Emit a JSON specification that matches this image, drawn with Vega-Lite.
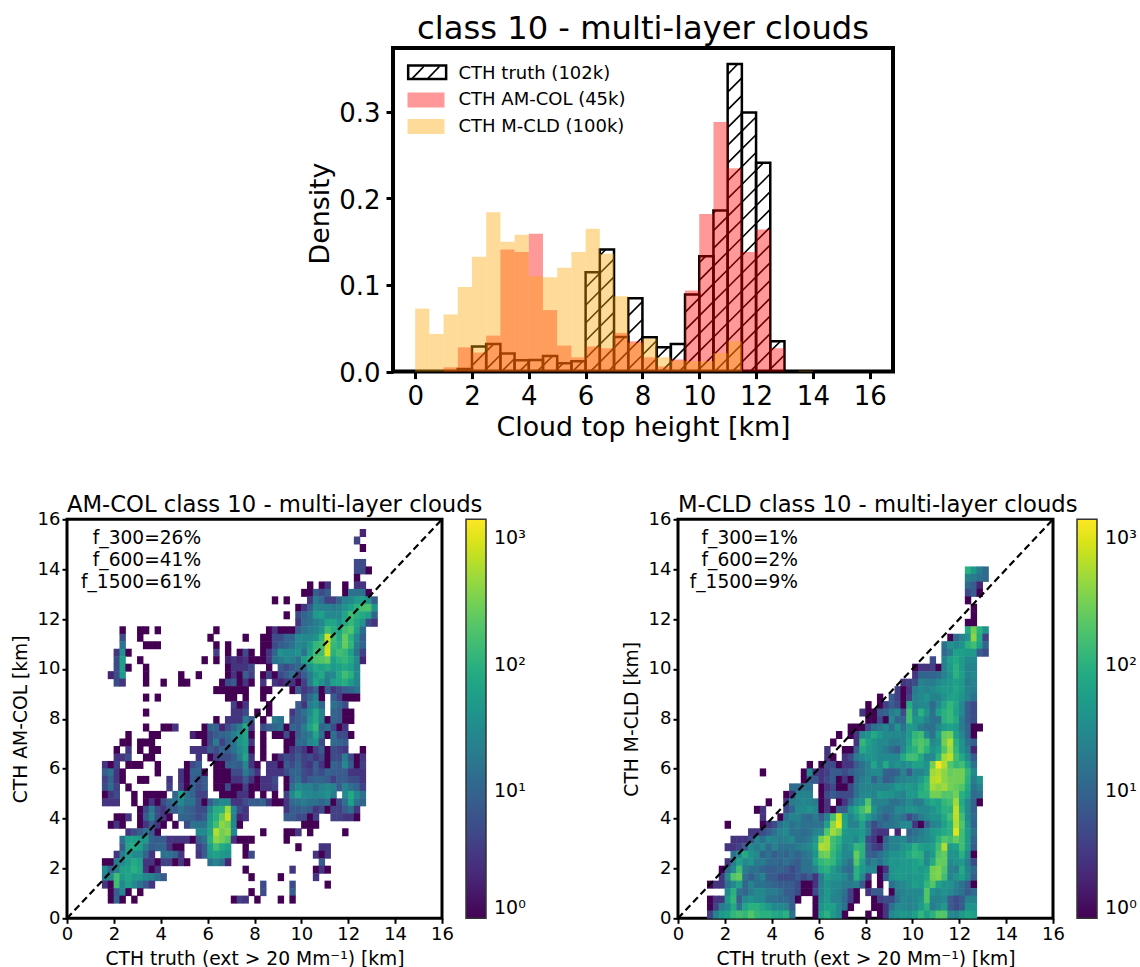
{"$schema":"https://vega.github.io/schema/vega-lite/v6.json","background":"white","bounds":"flush","spacing":471.3,"padding":{"left":9,"top":10,"right":0,"bottom":0},"autosize":{"type":"pad"},
"config":{"font":"DejaVu Sans","view":{"stroke":"black","strokeWidth":3},"axis":{"grid":false,"domain":false,"labelFlush":false,"tickColor":"black","labelColor":"black","titleColor":"black","titleFontWeight":"normal","labelFont":"DejaVu Sans","titleFont":"DejaVu Sans"},"title":{"font":"DejaVu Sans","fontWeight":"normal","color":"black"}},
"datasets":{"bars":[
{"b":1.5,"b2":2,"d":0.003,"s":"CTH truth (102k)"},{"b":2,"b2":2.5,"d":0.029,"s":"CTH truth (102k)"},{"b":2.5,"b2":3,"d":0.032,"s":"CTH truth (102k)"},{"b":3,"b2":3.5,"d":0.021,"s":"CTH truth (102k)"},{"b":3.5,"b2":4,"d":0.013,"s":"CTH truth (102k)"},{"b":4,"b2":4.5,"d":0.0135,"s":"CTH truth (102k)"},{"b":4.5,"b2":5,"d":0.018,"s":"CTH truth (102k)"},{"b":5,"b2":5.5,"d":0.0096,"s":"CTH truth (102k)"},{"b":5.5,"b2":6,"d":0.012,"s":"CTH truth (102k)"},{"b":6,"b2":6.5,"d":0.1146,"s":"CTH truth (102k)"},{"b":6.5,"b2":7,"d":0.141,"s":"CTH truth (102k)"},{"b":7,"b2":7.5,"d":0.04,"s":"CTH truth (102k)"},{"b":7.5,"b2":8,"d":0.0846,"s":"CTH truth (102k)"},{"b":8,"b2":8.5,"d":0.0396,"s":"CTH truth (102k)"},{"b":8.5,"b2":9,"d":0.028,"s":"CTH truth (102k)"},{"b":9,"b2":9.5,"d":0.032,"s":"CTH truth (102k)"},{"b":9.5,"b2":10,"d":0.089,"s":"CTH truth (102k)"},{"b":10,"b2":10.5,"d":0.133,"s":"CTH truth (102k)"},{"b":10.5,"b2":11,"d":0.186,"s":"CTH truth (102k)"},{"b":11,"b2":11.5,"d":0.355,"s":"CTH truth (102k)"},{"b":11.5,"b2":12,"d":0.299,"s":"CTH truth (102k)"},{"b":12,"b2":12.5,"d":0.241,"s":"CTH truth (102k)"},{"b":12.5,"b2":13,"d":0.035,"s":"CTH truth (102k)"},
{"b":1,"b2":1.5,"d":0.005,"s":"CTH AM-COL (45k)"},{"b":1.5,"b2":2,"d":0.028,"s":"CTH AM-COL (45k)"},{"b":2,"b2":2.5,"d":0.022,"s":"CTH AM-COL (45k)"},{"b":2.5,"b2":3,"d":0.0415,"s":"CTH AM-COL (45k)"},{"b":3,"b2":3.5,"d":0.141,"s":"CTH AM-COL (45k)"},{"b":3.5,"b2":4,"d":0.138,"s":"CTH AM-COL (45k)"},{"b":4,"b2":4.5,"d":0.159,"s":"CTH AM-COL (45k)"},{"b":4.5,"b2":5,"d":0.071,"s":"CTH AM-COL (45k)"},{"b":5,"b2":5.5,"d":0.03,"s":"CTH AM-COL (45k)"},{"b":5.5,"b2":6,"d":0.0165,"s":"CTH AM-COL (45k)"},{"b":6,"b2":6.5,"d":0.029,"s":"CTH AM-COL (45k)"},{"b":6.5,"b2":7,"d":0.027,"s":"CTH AM-COL (45k)"},{"b":7,"b2":7.5,"d":0.0446,"s":"CTH AM-COL (45k)"},{"b":7.5,"b2":8,"d":0.035,"s":"CTH AM-COL (45k)"},{"b":8,"b2":8.5,"d":0.0165,"s":"CTH AM-COL (45k)"},{"b":8.5,"b2":9,"d":0.006,"s":"CTH AM-COL (45k)"},{"b":9,"b2":9.5,"d":0.014,"s":"CTH AM-COL (45k)"},{"b":9.5,"b2":10,"d":0.0935,"s":"CTH AM-COL (45k)"},{"b":10,"b2":10.5,"d":0.182,"s":"CTH AM-COL (45k)"},{"b":10.5,"b2":11,"d":0.288,"s":"CTH AM-COL (45k)"},{"b":11,"b2":11.5,"d":0.2346,"s":"CTH AM-COL (45k)"},{"b":11.5,"b2":12,"d":0.138,"s":"CTH AM-COL (45k)"},{"b":12,"b2":12.5,"d":0.164,"s":"CTH AM-COL (45k)"},{"b":12.5,"b2":13,"d":0.027,"s":"CTH AM-COL (45k)"},
{"b":0,"b2":0.5,"d":0.0727,"s":"CTH M-CLD (100k)"},{"b":0.5,"b2":1,"d":0.0435,"s":"CTH M-CLD (100k)"},{"b":1,"b2":1.5,"d":0.066,"s":"CTH M-CLD (100k)"},{"b":1.5,"b2":2,"d":0.0977,"s":"CTH M-CLD (100k)"},{"b":2,"b2":2.5,"d":0.1327,"s":"CTH M-CLD (100k)"},{"b":2.5,"b2":3,"d":0.184,"s":"CTH M-CLD (100k)"},{"b":3,"b2":3.5,"d":0.15,"s":"CTH M-CLD (100k)"},{"b":3.5,"b2":4,"d":0.158,"s":"CTH M-CLD (100k)"},{"b":4,"b2":4.5,"d":0.11,"s":"CTH M-CLD (100k)"},{"b":4.5,"b2":5,"d":0.109,"s":"CTH M-CLD (100k)"},{"b":5,"b2":5.5,"d":0.12,"s":"CTH M-CLD (100k)"},{"b":5.5,"b2":6,"d":0.138,"s":"CTH M-CLD (100k)"},{"b":6,"b2":6.5,"d":0.165,"s":"CTH M-CLD (100k)"},{"b":6.5,"b2":7,"d":0.136,"s":"CTH M-CLD (100k)"},{"b":7,"b2":7.5,"d":0.087,"s":"CTH M-CLD (100k)"},{"b":7.5,"b2":8,"d":0.033,"s":"CTH M-CLD (100k)"},{"b":8,"b2":8.5,"d":0.038,"s":"CTH M-CLD (100k)"},{"b":8.5,"b2":9,"d":0.0165,"s":"CTH M-CLD (100k)"},{"b":9,"b2":9.5,"d":0.0127,"s":"CTH M-CLD (100k)"},{"b":9.5,"b2":10,"d":0.012,"s":"CTH M-CLD (100k)"},{"b":10,"b2":10.5,"d":0.012,"s":"CTH M-CLD (100k)"},{"b":10.5,"b2":11,"d":0.0215,"s":"CTH M-CLD (100k)"},{"b":11,"b2":11.5,"d":0.035,"s":"CTH M-CLD (100k)"},{"b":13.5,"b2":14,"d":0.001,"s":"CTH M-CLD (100k)"}],
"patch":[{"b":-0.246,"b2":1.09,"d":0.3376,"d2":0.3534}],
"hatch":[
{"x":-0.1,"y":0.3385,"x2":0.3,"y2":0.352},{"x":0.45,"y":0.3385,"x2":0.85,"y2":0.352},
{"x":2.415,"y":0,"x2":2.5,"y2":0.0028},{"x":2,"y":0.0069,"x2":2.5,"y2":0.0233},{"x":2,"y":0.0274,"x2":2.05,"y2":0.029},
{"x":2.5,"y":0.0028,"x2":3,"y2":0.0192},{"x":2.5,"y":0.0233,"x2":2.77,"y2":0.032},
{"x":3,"y":0.0192,"x2":3.05,"y2":0.021},{"x":3.04,"y":0,"x2":3.5,"y2":0.0151},
{"x":3.665,"y":0,"x2":4,"y2":0.011},
{"x":4,"y":0.011,"x2":4.08,"y2":0.0135},{"x":4.29,"y":0,"x2":4.5,"y2":0.0069},
{"x":4.5,"y":0.0069,"x2":4.84,"y2":0.018},{"x":4.915,"y":0,"x2":5,"y2":0.0028},
{"x":5,"y":0.0028,"x2":5.21,"y2":0.0096},
{"x":5.54,"y":0,"x2":5.9,"y2":0.012},
{"x":6,"y":0.0151,"x2":6.5,"y2":0.0315},{"x":6,"y":0.0356,"x2":6.5,"y2":0.052},{"x":6,"y":0.0561,"x2":6.5,"y2":0.0725},{"x":6,"y":0.0766,"x2":6.5,"y2":0.093},{"x":6,"y":0.0971,"x2":6.5,"y2":0.1135},{"x":6.165,"y":0,"x2":6.5,"y2":0.011},
{"x":6.5,"y":0.011,"x2":7,"y2":0.0274},{"x":6.5,"y":0.0315,"x2":7,"y2":0.0479},{"x":6.5,"y":0.052,"x2":7,"y2":0.0684},{"x":6.5,"y":0.0725,"x2":7,"y2":0.0889},{"x":6.5,"y":0.093,"x2":7,"y2":0.1094},{"x":6.5,"y":0.1135,"x2":7,"y2":0.1299},{"x":6.5,"y":0.134,"x2":6.71,"y2":0.141},{"x":6.79,"y":0,"x2":7,"y2":0.0069},
{"x":7,"y":0.0069,"x2":7.5,"y2":0.0233},{"x":7,"y":0.0274,"x2":7.384,"y2":0.04},{"x":7.415,"y":0,"x2":7.5,"y2":0.0028},
{"x":7.5,"y":0.0028,"x2":8,"y2":0.0192},{"x":7.5,"y":0.0233,"x2":8,"y2":0.0397},{"x":7.5,"y":0.0438,"x2":8,"y2":0.0602},{"x":7.5,"y":0.0643,"x2":8,"y2":0.0807},
{"x":8,"y":0.0192,"x2":8.5,"y2":0.0356},{"x":8.04,"y":0,"x2":8.5,"y2":0.0151},
{"x":8.5,"y":0.0151,"x2":8.893,"y2":0.028},{"x":8.665,"y":0,"x2":9,"y2":0.011},
{"x":9,"y":0.011,"x2":9.5,"y2":0.0274},{"x":9.29,"y":0,"x2":9.5,"y2":0.0069},
{"x":9.5,"y":0.0069,"x2":10,"y2":0.0233},{"x":9.5,"y":0.0274,"x2":10,"y2":0.0438},{"x":9.5,"y":0.0479,"x2":10,"y2":0.0643},{"x":9.5,"y":0.0684,"x2":10,"y2":0.0848},{"x":9.915,"y":0,"x2":10,"y2":0.0028},
{"x":10,"y":0.0028,"x2":10.5,"y2":0.0192},{"x":10,"y":0.0233,"x2":10.5,"y2":0.0397},{"x":10,"y":0.0438,"x2":10.5,"y2":0.0602},{"x":10,"y":0.0643,"x2":10.5,"y2":0.0807},{"x":10,"y":0.0848,"x2":10.5,"y2":0.1012},{"x":10,"y":0.1053,"x2":10.5,"y2":0.1217},{"x":10,"y":0.1258,"x2":10.22,"y2":0.133},
{"x":10.5,"y":0.0192,"x2":11,"y2":0.0356},{"x":10.5,"y":0.0397,"x2":11,"y2":0.0561},{"x":10.5,"y":0.0602,"x2":11,"y2":0.0766},{"x":10.5,"y":0.0807,"x2":11,"y2":0.0971},{"x":10.5,"y":0.1012,"x2":11,"y2":0.1176},{"x":10.5,"y":0.1217,"x2":11,"y2":0.1381},{"x":10.5,"y":0.1422,"x2":11,"y2":0.1586},{"x":10.5,"y":0.1627,"x2":11,"y2":0.1791},{"x":10.5,"y":0.1832,"x2":10.585,"y2":0.186},{"x":10.54,"y":0,"x2":11,"y2":0.0151},
{"x":11,"y":0.0151,"x2":11.5,"y2":0.0315},{"x":11,"y":0.0356,"x2":11.5,"y2":0.052},{"x":11,"y":0.0561,"x2":11.5,"y2":0.0725},{"x":11,"y":0.0766,"x2":11.5,"y2":0.093},{"x":11,"y":0.0971,"x2":11.5,"y2":0.1135},{"x":11,"y":0.1176,"x2":11.5,"y2":0.134},{"x":11,"y":0.1381,"x2":11.5,"y2":0.1545},{"x":11,"y":0.1586,"x2":11.5,"y2":0.175},{"x":11,"y":0.1791,"x2":11.5,"y2":0.1955},{"x":11,"y":0.1996,"x2":11.5,"y2":0.216},{"x":11,"y":0.2201,"x2":11.5,"y2":0.2365},{"x":11,"y":0.2406,"x2":11.5,"y2":0.257},{"x":11,"y":0.2611,"x2":11.5,"y2":0.2775},{"x":11,"y":0.2816,"x2":11.5,"y2":0.298},{"x":11,"y":0.3021,"x2":11.5,"y2":0.3185},{"x":11,"y":0.3226,"x2":11.5,"y2":0.339},{"x":11,"y":0.3431,"x2":11.357,"y2":0.355},{"x":11.165,"y":0,"x2":11.5,"y2":0.011},
{"x":11.5,"y":0.011,"x2":12,"y2":0.0274},{"x":11.5,"y":0.0315,"x2":12,"y2":0.0479},{"x":11.5,"y":0.052,"x2":12,"y2":0.0684},{"x":11.5,"y":0.0725,"x2":12,"y2":0.0889},{"x":11.5,"y":0.093,"x2":12,"y2":0.1094},{"x":11.5,"y":0.1135,"x2":12,"y2":0.1299},{"x":11.5,"y":0.134,"x2":12,"y2":0.1504},{"x":11.5,"y":0.1545,"x2":12,"y2":0.1709},{"x":11.5,"y":0.175,"x2":12,"y2":0.1914},{"x":11.5,"y":0.1955,"x2":12,"y2":0.2119},{"x":11.5,"y":0.216,"x2":12,"y2":0.2324},{"x":11.5,"y":0.2365,"x2":12,"y2":0.2529},{"x":11.5,"y":0.257,"x2":12,"y2":0.2734},{"x":11.5,"y":0.2775,"x2":12,"y2":0.2939},{"x":11.79,"y":0,"x2":12,"y2":0.0069},
{"x":12,"y":0.0069,"x2":12.5,"y2":0.0233},{"x":12,"y":0.0274,"x2":12.5,"y2":0.0438},{"x":12,"y":0.0479,"x2":12.5,"y2":0.0643},{"x":12,"y":0.0684,"x2":12.5,"y2":0.0848},{"x":12,"y":0.0889,"x2":12.5,"y2":0.1053},{"x":12,"y":0.1094,"x2":12.5,"y2":0.1258},{"x":12,"y":0.1299,"x2":12.5,"y2":0.1463},{"x":12,"y":0.1504,"x2":12.5,"y2":0.1668},{"x":12,"y":0.1709,"x2":12.5,"y2":0.1873},{"x":12,"y":0.1914,"x2":12.5,"y2":0.2078},{"x":12,"y":0.2119,"x2":12.5,"y2":0.2283},{"x":12,"y":0.2324,"x2":12.262,"y2":0.241},{"x":12.415,"y":0,"x2":12.5,"y2":0.0028},
{"x":12.5,"y":0.0028,"x2":13,"y2":0.0192},{"x":12.5,"y":0.0233,"x2":12.86,"y2":0.035}],
"amcol":[
{"x":12.5,"y":15.3,"c":2},
{"x":12.25,"y":15,"c":4},
{"x":12.5,"y":14.7,"c":1},
{"x":12.25,"y":14.1,"c":5},{"x":12.5,"y":14.1,"c":5},
{"x":12.25,"y":13.8,"c":5},{"x":12.5,"y":13.8,"c":5},{"x":12.75,"y":13.8,"c":1},
{"x":12.25,"y":13.5,"c":1},
{"x":10.25,"y":13.2,"c":1},{"x":10.75,"y":13.2,"c":1},{"x":11,"y":13.2,"c":3},{"x":11.75,"y":13.2,"c":1},{"x":12.25,"y":13.2,"c":3},{"x":12.5,"y":13.2,"c":3},
{"x":10,"y":12.9,"c":1},{"x":10.25,"y":12.9,"c":1},{"x":10.5,"y":12.9,"c":8},{"x":10.75,"y":12.9,"c":5},{"x":11,"y":12.9,"c":8},{"x":11.75,"y":12.9,"c":1},{"x":12,"y":12.9,"c":15},{"x":12.25,"y":12.9,"c":15},{"x":12.5,"y":12.9,"c":15},{"x":12.75,"y":12.9,"c":1},
{"x":8.75,"y":12.6,"c":1},{"x":9.25,"y":12.6,"c":1},{"x":10.25,"y":12.6,"c":3},{"x":10.5,"y":12.6,"c":20},{"x":10.75,"y":12.6,"c":12},{"x":11,"y":12.6,"c":4},{"x":11.25,"y":12.6,"c":4},{"x":11.5,"y":12.6,"c":10},{"x":11.75,"y":12.6,"c":25},{"x":12,"y":12.6,"c":30},{"x":12.25,"y":12.6,"c":50},{"x":12.5,"y":12.6,"c":60},{"x":12.75,"y":12.6,"c":40},{"x":13,"y":12.6,"c":8},
{"x":9.75,"y":12.3,"c":1},{"x":10,"y":12.3,"c":3},{"x":10.25,"y":12.3,"c":8},{"x":10.5,"y":12.3,"c":30},{"x":10.75,"y":12.3,"c":25},{"x":11,"y":12.3,"c":25},{"x":11.25,"y":12.3,"c":20},{"x":11.5,"y":12.3,"c":25},{"x":11.75,"y":12.3,"c":40},{"x":12,"y":12.3,"c":60},{"x":12.25,"y":12.3,"c":100},{"x":12.5,"y":12.3,"c":170},{"x":12.75,"y":12.3,"c":180},{"x":13,"y":12.3,"c":40},
{"x":9.25,"y":12,"c":1},{"x":9.75,"y":12,"c":5},{"x":10,"y":12,"c":10},{"x":10.25,"y":12,"c":15},{"x":10.5,"y":12,"c":50},{"x":10.75,"y":12,"c":60},{"x":11,"y":12,"c":30},{"x":11.25,"y":12,"c":30},{"x":11.5,"y":12,"c":30},{"x":11.75,"y":12,"c":70},{"x":12,"y":12,"c":150},{"x":12.25,"y":12,"c":100},{"x":12.5,"y":12,"c":80},{"x":12.75,"y":12,"c":60},{"x":13,"y":12,"c":10},
{"x":9.75,"y":11.7,"c":3},{"x":10,"y":11.7,"c":12},{"x":10.25,"y":11.7,"c":15},{"x":10.5,"y":11.7,"c":20},{"x":10.75,"y":11.7,"c":30},{"x":11,"y":11.7,"c":70},{"x":11.25,"y":11.7,"c":70},{"x":11.5,"y":11.7,"c":40},{"x":11.75,"y":11.7,"c":80},{"x":12,"y":11.7,"c":130},{"x":12.25,"y":11.7,"c":70},{"x":12.5,"y":11.7,"c":40},{"x":12.75,"y":11.7,"c":5},{"x":13,"y":11.7,"c":3},
{"x":2.25,"y":11.4,"c":1},{"x":3,"y":11.4,"c":1},{"x":3.25,"y":11.4,"c":1},{"x":3.75,"y":11.4,"c":1},{"x":6.25,"y":11.4,"c":1},{"x":8.5,"y":11.4,"c":1},{"x":8.75,"y":11.4,"c":3},{"x":9,"y":11.4,"c":1},{"x":9.25,"y":11.4,"c":1},{"x":9.5,"y":11.4,"c":1},{"x":9.75,"y":11.4,"c":8},{"x":10,"y":11.4,"c":15},{"x":10.25,"y":11.4,"c":20},{"x":10.5,"y":11.4,"c":25},{"x":10.75,"y":11.4,"c":40},{"x":11,"y":11.4,"c":150},{"x":11.25,"y":11.4,"c":90},{"x":11.5,"y":11.4,"c":70},{"x":11.75,"y":11.4,"c":150},{"x":12,"y":11.4,"c":200},{"x":12.25,"y":11.4,"c":60},{"x":12.5,"y":11.4,"c":12},
{"x":2.25,"y":11.1,"c":5},{"x":3,"y":11.1,"c":1},{"x":6,"y":11.1,"c":1},{"x":7.5,"y":11.1,"c":1},{"x":8.25,"y":11.1,"c":1},{"x":8.5,"y":11.1,"c":1},{"x":8.75,"y":11.1,"c":5},{"x":9,"y":11.1,"c":5},{"x":9.25,"y":11.1,"c":10},{"x":9.5,"y":11.1,"c":10},{"x":9.75,"y":11.1,"c":30},{"x":10,"y":11.1,"c":30},{"x":10.25,"y":11.1,"c":30},{"x":10.5,"y":11.1,"c":40},{"x":10.75,"y":11.1,"c":100},{"x":11,"y":11.1,"c":800},{"x":11.25,"y":11.1,"c":150},{"x":11.5,"y":11.1,"c":80},{"x":11.75,"y":11.1,"c":250},{"x":12,"y":11.1,"c":100},{"x":12.25,"y":11.1,"c":30},{"x":12.5,"y":11.1,"c":8},
{"x":2.25,"y":10.8,"c":15},{"x":3.25,"y":10.8,"c":1},{"x":3.5,"y":10.8,"c":1},{"x":3.75,"y":10.8,"c":1},{"x":6.25,"y":10.8,"c":1},{"x":6.75,"y":10.8,"c":1},{"x":8.25,"y":10.8,"c":1},{"x":8.5,"y":10.8,"c":1},{"x":8.75,"y":10.8,"c":5},{"x":9,"y":10.8,"c":8},{"x":9.25,"y":10.8,"c":10},{"x":9.5,"y":10.8,"c":15},{"x":9.75,"y":10.8,"c":30},{"x":10,"y":10.8,"c":25},{"x":10.25,"y":10.8,"c":50},{"x":10.5,"y":10.8,"c":120},{"x":10.75,"y":10.8,"c":150},{"x":11,"y":10.8,"c":700},{"x":11.25,"y":10.8,"c":130},{"x":11.5,"y":10.8,"c":100},{"x":11.75,"y":10.8,"c":250},{"x":12,"y":10.8,"c":120},{"x":12.25,"y":10.8,"c":20},{"x":12.5,"y":10.8,"c":10},
{"x":2,"y":10.5,"c":3},{"x":2.25,"y":10.5,"c":40},{"x":2.5,"y":10.5,"c":1},{"x":6.25,"y":10.5,"c":4},{"x":6.75,"y":10.5,"c":1},{"x":7.25,"y":10.5,"c":1},{"x":7.5,"y":10.5,"c":5},{"x":7.75,"y":10.5,"c":1},{"x":8.25,"y":10.5,"c":1},{"x":8.5,"y":10.5,"c":3},{"x":8.75,"y":10.5,"c":10},{"x":9,"y":10.5,"c":40},{"x":9.25,"y":10.5,"c":30},{"x":9.5,"y":10.5,"c":30},{"x":9.75,"y":10.5,"c":40},{"x":10,"y":10.5,"c":15},{"x":10.25,"y":10.5,"c":60},{"x":10.5,"y":10.5,"c":150},{"x":10.75,"y":10.5,"c":150},{"x":11,"y":10.5,"c":900},{"x":11.25,"y":10.5,"c":100},{"x":11.5,"y":10.5,"c":150},{"x":11.75,"y":10.5,"c":120},{"x":12,"y":10.5,"c":60},{"x":12.25,"y":10.5,"c":15},{"x":12.5,"y":10.5,"c":4},
{"x":2,"y":10.2,"c":5},{"x":2.25,"y":10.2,"c":60},{"x":3,"y":10.2,"c":1},{"x":5.75,"y":10.2,"c":1},{"x":6.25,"y":10.2,"c":1},{"x":6.75,"y":10.2,"c":2},{"x":7,"y":10.2,"c":3},{"x":7.25,"y":10.2,"c":2},{"x":7.5,"y":10.2,"c":3},{"x":7.75,"y":10.2,"c":1},{"x":8,"y":10.2,"c":1},{"x":8.25,"y":10.2,"c":1},{"x":8.5,"y":10.2,"c":3},{"x":8.75,"y":10.2,"c":15},{"x":9,"y":10.2,"c":20},{"x":9.25,"y":10.2,"c":30},{"x":9.5,"y":10.2,"c":25},{"x":9.75,"y":10.2,"c":15},{"x":10,"y":10.2,"c":60},{"x":10.25,"y":10.2,"c":100},{"x":10.5,"y":10.2,"c":180},{"x":10.75,"y":10.2,"c":200},{"x":11,"y":10.2,"c":250},{"x":11.25,"y":10.2,"c":60},{"x":11.5,"y":10.2,"c":100},{"x":11.75,"y":10.2,"c":120},{"x":12,"y":10.2,"c":80},{"x":12.25,"y":10.2,"c":30},{"x":12.5,"y":10.2,"c":2},
{"x":2,"y":9.9,"c":5},{"x":2.25,"y":9.9,"c":60},{"x":2.5,"y":9.9,"c":1},{"x":3.25,"y":9.9,"c":1},{"x":6.75,"y":9.9,"c":1},{"x":7,"y":9.9,"c":3},{"x":7.25,"y":9.9,"c":3},{"x":7.5,"y":9.9,"c":3},{"x":7.75,"y":9.9,"c":5},{"x":8.5,"y":9.9,"c":1},{"x":9,"y":9.9,"c":8},{"x":9.25,"y":9.9,"c":5},{"x":9.5,"y":9.9,"c":8},{"x":9.75,"y":9.9,"c":12},{"x":10,"y":9.9,"c":12},{"x":10.25,"y":9.9,"c":40},{"x":10.5,"y":9.9,"c":80},{"x":10.75,"y":9.9,"c":60},{"x":11,"y":9.9,"c":80},{"x":11.25,"y":9.9,"c":50},{"x":11.5,"y":9.9,"c":60},{"x":11.75,"y":9.9,"c":80},{"x":12,"y":9.9,"c":60},{"x":12.25,"y":9.9,"c":25},
{"x":1.75,"y":9.6,"c":2},{"x":2,"y":9.6,"c":5},{"x":2.25,"y":9.6,"c":50},{"x":3.25,"y":9.6,"c":1},{"x":4.75,"y":9.6,"c":1},{"x":5.5,"y":9.6,"c":1},{"x":6.75,"y":9.6,"c":1},{"x":7,"y":9.6,"c":3},{"x":7.25,"y":9.6,"c":1},{"x":7.5,"y":9.6,"c":8},{"x":7.75,"y":9.6,"c":4},{"x":8.25,"y":9.6,"c":1},{"x":8.5,"y":9.6,"c":4},{"x":8.75,"y":9.6,"c":1},{"x":9,"y":9.6,"c":5},{"x":9.25,"y":9.6,"c":8},{"x":9.5,"y":9.6,"c":15},{"x":9.75,"y":9.6,"c":3},{"x":10,"y":9.6,"c":8},{"x":10.25,"y":9.6,"c":20},{"x":10.5,"y":9.6,"c":50},{"x":10.75,"y":9.6,"c":80},{"x":11,"y":9.6,"c":25},{"x":11.25,"y":9.6,"c":30},{"x":11.5,"y":9.6,"c":80},{"x":11.75,"y":9.6,"c":150},{"x":12,"y":9.6,"c":100},{"x":12.25,"y":9.6,"c":30},
{"x":2,"y":9.3,"c":5},{"x":2.25,"y":9.3,"c":3},{"x":3.25,"y":9.3,"c":1},{"x":4,"y":9.3,"c":1},{"x":4.75,"y":9.3,"c":1},{"x":5,"y":9.3,"c":1},{"x":6.5,"y":9.3,"c":1},{"x":6.75,"y":9.3,"c":5},{"x":7,"y":9.3,"c":8},{"x":7.25,"y":9.3,"c":1},{"x":7.5,"y":9.3,"c":3},{"x":7.75,"y":9.3,"c":1},{"x":8.25,"y":9.3,"c":3},{"x":8.75,"y":9.3,"c":3},{"x":9,"y":9.3,"c":2},{"x":9.25,"y":9.3,"c":3},{"x":9.5,"y":9.3,"c":3},{"x":9.75,"y":9.3,"c":1},{"x":10,"y":9.3,"c":4},{"x":10.25,"y":9.3,"c":20},{"x":10.5,"y":9.3,"c":70},{"x":10.75,"y":9.3,"c":40},{"x":11,"y":9.3,"c":20},{"x":11.25,"y":9.3,"c":60},{"x":11.5,"y":9.3,"c":70},{"x":11.75,"y":9.3,"c":90},{"x":12,"y":9.3,"c":50},{"x":12.25,"y":9.3,"c":25},
{"x":6.25,"y":9,"c":1},{"x":6.5,"y":9,"c":1},{"x":6.75,"y":9,"c":1},{"x":7,"y":9,"c":1},{"x":7.25,"y":9,"c":1},{"x":7.5,"y":9,"c":1},{"x":8.25,"y":9,"c":1},{"x":8.5,"y":9,"c":1},{"x":9.5,"y":9,"c":1},{"x":9.75,"y":9,"c":8},{"x":10,"y":9,"c":3},{"x":10.25,"y":9,"c":5},{"x":10.5,"y":9,"c":10},{"x":10.75,"y":9,"c":1},{"x":11,"y":9,"c":8},{"x":11.25,"y":9,"c":3},{"x":11.5,"y":9,"c":5},{"x":11.75,"y":9,"c":8},{"x":12,"y":9,"c":10},{"x":12.25,"y":9,"c":15},
{"x":3.25,"y":8.7,"c":1},{"x":3.75,"y":8.7,"c":1},{"x":6.75,"y":8.7,"c":1},{"x":7,"y":8.7,"c":1},{"x":7.5,"y":8.7,"c":1},{"x":8.25,"y":8.7,"c":1},{"x":10,"y":8.7,"c":5},{"x":10.25,"y":8.7,"c":12},{"x":10.5,"y":8.7,"c":25},{"x":10.75,"y":8.7,"c":1},{"x":11.25,"y":8.7,"c":8},{"x":11.5,"y":8.7,"c":4},{"x":11.75,"y":8.7,"c":1},{"x":12,"y":8.7,"c":1},{"x":12.25,"y":8.7,"c":1},
{"x":7,"y":8.4,"c":4},{"x":7.25,"y":8.4,"c":1},{"x":7.5,"y":8.4,"c":3},{"x":8.5,"y":8.4,"c":1},{"x":9.75,"y":8.4,"c":8},{"x":10,"y":8.4,"c":3},{"x":10.25,"y":8.4,"c":20},{"x":10.5,"y":8.4,"c":30},{"x":10.75,"y":8.4,"c":10},{"x":11.25,"y":8.4,"c":15},{"x":11.5,"y":8.4,"c":10},{"x":11.75,"y":8.4,"c":5},
{"x":3.25,"y":8.1,"c":1},{"x":7,"y":8.1,"c":3},{"x":7.25,"y":8.1,"c":3},{"x":7.5,"y":8.1,"c":5},{"x":8,"y":8.1,"c":1},{"x":8.5,"y":8.1,"c":1},{"x":9.5,"y":8.1,"c":3},{"x":9.75,"y":8.1,"c":8},{"x":10,"y":8.1,"c":15},{"x":10.25,"y":8.1,"c":30},{"x":10.5,"y":8.1,"c":80},{"x":10.75,"y":8.1,"c":25},{"x":11.25,"y":8.1,"c":10},{"x":11.5,"y":8.1,"c":8},{"x":11.75,"y":8.1,"c":1},{"x":12,"y":8.1,"c":1},
{"x":6.25,"y":7.8,"c":1},{"x":6.75,"y":7.8,"c":3},{"x":7,"y":7.8,"c":3},{"x":7.25,"y":7.8,"c":3},{"x":7.5,"y":7.8,"c":20},{"x":7.75,"y":7.8,"c":8},{"x":8.25,"y":7.8,"c":1},{"x":8.75,"y":7.8,"c":20},{"x":9,"y":7.8,"c":15},{"x":9.5,"y":7.8,"c":5},{"x":9.75,"y":7.8,"c":8},{"x":10,"y":7.8,"c":10},{"x":10.25,"y":7.8,"c":40},{"x":10.5,"y":7.8,"c":80},{"x":10.75,"y":7.8,"c":25},{"x":11,"y":7.8,"c":1},{"x":11.25,"y":7.8,"c":10},{"x":11.5,"y":7.8,"c":8},{"x":11.75,"y":7.8,"c":1},{"x":12,"y":7.8,"c":1},
{"x":3.25,"y":7.5,"c":1},{"x":4,"y":7.5,"c":1},{"x":4.25,"y":7.5,"c":1},{"x":4.5,"y":7.5,"c":3},{"x":5.75,"y":7.5,"c":1},{"x":6,"y":7.5,"c":10},{"x":6.25,"y":7.5,"c":10},{"x":6.5,"y":7.5,"c":2},{"x":6.75,"y":7.5,"c":5},{"x":7,"y":7.5,"c":10},{"x":7.25,"y":7.5,"c":20},{"x":7.5,"y":7.5,"c":80},{"x":7.75,"y":7.5,"c":3},{"x":8.25,"y":7.5,"c":5},{"x":8.5,"y":7.5,"c":8},{"x":8.75,"y":7.5,"c":10},{"x":9,"y":7.5,"c":15},{"x":9.25,"y":7.5,"c":1},{"x":9.5,"y":7.5,"c":10},{"x":9.75,"y":7.5,"c":8},{"x":10,"y":7.5,"c":20},{"x":10.25,"y":7.5,"c":60},{"x":10.5,"y":7.5,"c":120},{"x":10.75,"y":7.5,"c":10},{"x":11,"y":7.5,"c":15},{"x":11.25,"y":7.5,"c":5},{"x":11.5,"y":7.5,"c":1},{"x":11.75,"y":7.5,"c":3},
{"x":2.5,"y":7.2,"c":1},{"x":3.5,"y":7.2,"c":1},{"x":3.75,"y":7.2,"c":1},{"x":5.25,"y":7.2,"c":2},{"x":5.5,"y":7.2,"c":1},{"x":5.75,"y":7.2,"c":1},{"x":6,"y":7.2,"c":5},{"x":6.25,"y":7.2,"c":8},{"x":6.5,"y":7.2,"c":10},{"x":6.75,"y":7.2,"c":12},{"x":7,"y":7.2,"c":20},{"x":7.25,"y":7.2,"c":40},{"x":7.5,"y":7.2,"c":70},{"x":7.75,"y":7.2,"c":1},{"x":8.25,"y":7.2,"c":1},{"x":8.75,"y":7.2,"c":1},{"x":9,"y":7.2,"c":1},{"x":9.25,"y":7.2,"c":5},{"x":9.5,"y":7.2,"c":1},{"x":9.75,"y":7.2,"c":8},{"x":10,"y":7.2,"c":15},{"x":10.25,"y":7.2,"c":20},{"x":10.5,"y":7.2,"c":70},{"x":10.75,"y":7.2,"c":15},{"x":11,"y":7.2,"c":1},{"x":11.25,"y":7.2,"c":15},{"x":11.5,"y":7.2,"c":5},{"x":11.75,"y":7.2,"c":5},{"x":12,"y":7.2,"c":1},
{"x":2.25,"y":6.9,"c":1},{"x":2.5,"y":6.9,"c":1},{"x":3,"y":6.9,"c":1},{"x":3.25,"y":6.9,"c":1},{"x":3.5,"y":6.9,"c":1},{"x":5.75,"y":6.9,"c":1},{"x":6,"y":6.9,"c":5},{"x":6.25,"y":6.9,"c":20},{"x":6.5,"y":6.9,"c":4},{"x":6.75,"y":6.9,"c":10},{"x":7,"y":6.9,"c":15},{"x":7.25,"y":6.9,"c":40},{"x":7.5,"y":6.9,"c":60},{"x":7.75,"y":6.9,"c":3},{"x":8.25,"y":6.9,"c":1},{"x":9.25,"y":6.9,"c":1},{"x":9.5,"y":6.9,"c":1},{"x":9.75,"y":6.9,"c":12},{"x":10,"y":6.9,"c":12},{"x":10.25,"y":6.9,"c":30},{"x":10.5,"y":6.9,"c":40},{"x":10.75,"y":6.9,"c":5},{"x":11.25,"y":6.9,"c":12},{"x":11.5,"y":6.9,"c":10},{"x":11.75,"y":6.9,"c":8},
{"x":2,"y":6.6,"c":1},{"x":2.5,"y":6.6,"c":3},{"x":3,"y":6.6,"c":1},{"x":3.5,"y":6.6,"c":1},{"x":3.75,"y":6.6,"c":1},{"x":5.25,"y":6.6,"c":3},{"x":5.5,"y":6.6,"c":3},{"x":5.75,"y":6.6,"c":3},{"x":6,"y":6.6,"c":8},{"x":6.25,"y":6.6,"c":5},{"x":6.5,"y":6.6,"c":10},{"x":6.75,"y":6.6,"c":8},{"x":7,"y":6.6,"c":15},{"x":7.25,"y":6.6,"c":30},{"x":7.5,"y":6.6,"c":50},{"x":7.75,"y":6.6,"c":1},{"x":8.25,"y":6.6,"c":1},{"x":9.25,"y":6.6,"c":1},{"x":9.5,"y":6.6,"c":3},{"x":9.75,"y":6.6,"c":5},{"x":10,"y":6.6,"c":3},{"x":10.25,"y":6.6,"c":1},{"x":10.5,"y":6.6,"c":4},{"x":10.75,"y":6.6,"c":8},{"x":11,"y":6.6,"c":1},{"x":11.25,"y":6.6,"c":5},{"x":11.5,"y":6.6,"c":4},{"x":11.75,"y":6.6,"c":3},{"x":12.5,"y":6.6,"c":1},
{"x":2,"y":6.3,"c":3},{"x":2.25,"y":6.3,"c":3},{"x":2.5,"y":6.3,"c":5},{"x":3.25,"y":6.3,"c":1},{"x":3.5,"y":6.3,"c":1},{"x":5.5,"y":6.3,"c":3},{"x":6,"y":6.3,"c":1},{"x":6.25,"y":6.3,"c":4},{"x":6.5,"y":6.3,"c":5},{"x":6.75,"y":6.3,"c":5},{"x":7,"y":6.3,"c":8},{"x":7.25,"y":6.3,"c":20},{"x":7.5,"y":6.3,"c":70},{"x":7.75,"y":6.3,"c":3},{"x":8.25,"y":6.3,"c":1},{"x":8.75,"y":6.3,"c":1},{"x":9,"y":6.3,"c":3},{"x":9.25,"y":6.3,"c":5},{"x":9.5,"y":6.3,"c":4},{"x":9.75,"y":6.3,"c":8},{"x":10,"y":6.3,"c":4},{"x":10.25,"y":6.3,"c":5},{"x":10.5,"y":6.3,"c":3},{"x":10.75,"y":6.3,"c":5},{"x":11,"y":6.3,"c":1},{"x":11.25,"y":6.3,"c":5},{"x":11.5,"y":6.3,"c":5},{"x":11.75,"y":6.3,"c":20},{"x":12,"y":6.3,"c":5},{"x":12.25,"y":6.3,"c":1},{"x":12.5,"y":6.3,"c":3},
{"x":1.5,"y":6,"c":3},{"x":1.75,"y":6,"c":1},{"x":2,"y":6,"c":4},{"x":2.5,"y":6,"c":1},{"x":2.75,"y":6,"c":1},{"x":3,"y":6,"c":1},{"x":3.75,"y":6,"c":1},{"x":5,"y":6,"c":1},{"x":5.25,"y":6,"c":5},{"x":5.5,"y":6,"c":8},{"x":6.25,"y":6,"c":1},{"x":6.5,"y":6,"c":1},{"x":6.75,"y":6,"c":8},{"x":7,"y":6,"c":10},{"x":7.25,"y":6,"c":8},{"x":7.5,"y":6,"c":30},{"x":7.75,"y":6,"c":3},{"x":8,"y":6,"c":1},{"x":8.5,"y":6,"c":3},{"x":8.75,"y":6,"c":3},{"x":9,"y":6,"c":1},{"x":9.25,"y":6,"c":8},{"x":9.5,"y":6,"c":5},{"x":9.75,"y":6,"c":10},{"x":10,"y":6,"c":4},{"x":10.25,"y":6,"c":3},{"x":10.5,"y":6,"c":8},{"x":10.75,"y":6,"c":3},{"x":11,"y":6,"c":1},{"x":11.25,"y":6,"c":10},{"x":11.5,"y":6,"c":8},{"x":11.75,"y":6,"c":30},{"x":12,"y":6,"c":8},{"x":12.25,"y":6,"c":1},{"x":12.5,"y":6,"c":4},
{"x":1.5,"y":5.7,"c":8},{"x":1.75,"y":5.7,"c":15},{"x":2,"y":5.7,"c":3},{"x":2.25,"y":5.7,"c":1},{"x":3.75,"y":5.7,"c":1},{"x":4.75,"y":5.7,"c":3},{"x":5,"y":5.7,"c":1},{"x":5.25,"y":5.7,"c":10},{"x":5.5,"y":5.7,"c":10},{"x":5.75,"y":5.7,"c":1},{"x":6.25,"y":5.7,"c":1},{"x":6.5,"y":5.7,"c":1},{"x":6.75,"y":5.7,"c":1},{"x":7,"y":5.7,"c":5},{"x":7.25,"y":5.7,"c":5},{"x":7.5,"y":5.7,"c":20},{"x":7.75,"y":5.7,"c":8},{"x":8,"y":5.7,"c":3},{"x":8.5,"y":5.7,"c":3},{"x":8.75,"y":5.7,"c":3},{"x":9,"y":5.7,"c":3},{"x":9.25,"y":5.7,"c":5},{"x":9.5,"y":5.7,"c":10},{"x":9.75,"y":5.7,"c":10},{"x":10,"y":5.7,"c":5},{"x":10.25,"y":5.7,"c":4},{"x":10.5,"y":5.7,"c":8},{"x":10.75,"y":5.7,"c":5},{"x":11,"y":5.7,"c":10},{"x":11.25,"y":5.7,"c":8},{"x":11.5,"y":5.7,"c":8},{"x":11.75,"y":5.7,"c":8},{"x":12,"y":5.7,"c":3},{"x":12.25,"y":5.7,"c":3},{"x":12.5,"y":5.7,"c":3},
{"x":1.5,"y":5.4,"c":4},{"x":1.75,"y":5.4,"c":10},{"x":2,"y":5.4,"c":3},{"x":2.25,"y":5.4,"c":1},{"x":3,"y":5.4,"c":1},{"x":3.25,"y":5.4,"c":1},{"x":4.25,"y":5.4,"c":3},{"x":4.75,"y":5.4,"c":3},{"x":5,"y":5.4,"c":1},{"x":5.25,"y":5.4,"c":8},{"x":5.5,"y":5.4,"c":5},{"x":5.75,"y":5.4,"c":8},{"x":6.25,"y":5.4,"c":1},{"x":6.5,"y":5.4,"c":1},{"x":6.75,"y":5.4,"c":1},{"x":7,"y":5.4,"c":3},{"x":7.25,"y":5.4,"c":3},{"x":7.5,"y":5.4,"c":8},{"x":7.75,"y":5.4,"c":3},{"x":8,"y":5.4,"c":1},{"x":8.25,"y":5.4,"c":3},{"x":8.5,"y":5.4,"c":3},{"x":8.75,"y":5.4,"c":5},{"x":9.25,"y":5.4,"c":1},{"x":9.5,"y":5.4,"c":8},{"x":9.75,"y":5.4,"c":15},{"x":10,"y":5.4,"c":5},{"x":10.25,"y":5.4,"c":8},{"x":10.5,"y":5.4,"c":10},{"x":10.75,"y":5.4,"c":10},{"x":11,"y":5.4,"c":8},{"x":11.25,"y":5.4,"c":4},{"x":11.5,"y":5.4,"c":8},{"x":11.75,"y":5.4,"c":8},{"x":12,"y":5.4,"c":5},{"x":12.25,"y":5.4,"c":5},{"x":12.5,"y":5.4,"c":3},
{"x":1.5,"y":5.1,"c":5},{"x":1.75,"y":5.1,"c":12},{"x":2,"y":5.1,"c":4},{"x":2.5,"y":5.1,"c":1},{"x":4.25,"y":5.1,"c":4},{"x":4.75,"y":5.1,"c":4},{"x":5,"y":5.1,"c":1},{"x":5.25,"y":5.1,"c":10},{"x":5.5,"y":5.1,"c":5},{"x":5.75,"y":5.1,"c":8},{"x":6.25,"y":5.1,"c":1},{"x":6.5,"y":5.1,"c":1},{"x":6.75,"y":5.1,"c":5},{"x":7,"y":5.1,"c":1},{"x":7.25,"y":5.1,"c":1},{"x":7.5,"y":5.1,"c":4},{"x":7.75,"y":5.1,"c":1},{"x":8,"y":5.1,"c":1},{"x":8.25,"y":5.1,"c":3},{"x":8.5,"y":5.1,"c":3},{"x":8.75,"y":5.1,"c":4},{"x":9.25,"y":5.1,"c":1},{"x":9.5,"y":5.1,"c":15},{"x":9.75,"y":5.1,"c":30},{"x":10,"y":5.1,"c":25},{"x":10.25,"y":5.1,"c":25},{"x":10.5,"y":5.1,"c":15},{"x":10.75,"y":5.1,"c":25},{"x":11,"y":5.1,"c":30},{"x":11.25,"y":5.1,"c":25},{"x":11.5,"y":5.1,"c":8},{"x":11.75,"y":5.1,"c":25},{"x":12,"y":5.1,"c":15},{"x":12.25,"y":5.1,"c":10},{"x":12.5,"y":5.1,"c":4},
{"x":1.5,"y":4.8,"c":1},{"x":1.75,"y":4.8,"c":3},{"x":2,"y":4.8,"c":5},{"x":2.75,"y":4.8,"c":1},{"x":3.25,"y":4.8,"c":1},{"x":3.5,"y":4.8,"c":1},{"x":3.75,"y":4.8,"c":1},{"x":4,"y":4.8,"c":1},{"x":4.5,"y":4.8,"c":10},{"x":4.75,"y":4.8,"c":60},{"x":5,"y":4.8,"c":15},{"x":5.25,"y":4.8,"c":10},{"x":5.5,"y":4.8,"c":4},{"x":5.75,"y":4.8,"c":4},{"x":6.5,"y":4.8,"c":1},{"x":6.75,"y":4.8,"c":1},{"x":7,"y":4.8,"c":1},{"x":7.25,"y":4.8,"c":3},{"x":7.5,"y":4.8,"c":3},{"x":7.75,"y":4.8,"c":1},{"x":8.25,"y":4.8,"c":1},{"x":8.75,"y":4.8,"c":1},{"x":9.25,"y":4.8,"c":4},{"x":9.5,"y":4.8,"c":30},{"x":9.75,"y":4.8,"c":70},{"x":10,"y":4.8,"c":30},{"x":10.25,"y":4.8,"c":30},{"x":10.5,"y":4.8,"c":25},{"x":10.75,"y":4.8,"c":30},{"x":11,"y":4.8,"c":40},{"x":11.25,"y":4.8,"c":20},{"x":11.75,"y":4.8,"c":30},{"x":12,"y":4.8,"c":80},{"x":12.25,"y":4.8,"c":30},{"x":12.5,"y":4.8,"c":15},
{"x":1.5,"y":4.5,"c":3},{"x":1.75,"y":4.5,"c":3},{"x":2,"y":4.5,"c":3},{"x":2.75,"y":4.5,"c":1},{"x":3.25,"y":4.5,"c":1},{"x":3.5,"y":4.5,"c":3},{"x":3.75,"y":4.5,"c":1},{"x":4,"y":4.5,"c":5},{"x":4.25,"y":4.5,"c":10},{"x":4.5,"y":4.5,"c":15},{"x":4.75,"y":4.5,"c":30},{"x":5,"y":4.5,"c":15},{"x":5.25,"y":4.5,"c":15},{"x":5.5,"y":4.5,"c":5},{"x":5.75,"y":4.5,"c":1},{"x":6,"y":4.5,"c":8},{"x":6.25,"y":4.5,"c":20},{"x":6.5,"y":4.5,"c":30},{"x":6.75,"y":4.5,"c":30},{"x":7,"y":4.5,"c":3},{"x":7.25,"y":4.5,"c":3},{"x":7.5,"y":4.5,"c":5},{"x":7.75,"y":4.5,"c":8},{"x":8,"y":4.5,"c":8},{"x":8.25,"y":4.5,"c":10},{"x":8.5,"y":4.5,"c":3},{"x":8.75,"y":4.5,"c":1},{"x":9,"y":4.5,"c":1},{"x":9.25,"y":4.5,"c":3},{"x":9.5,"y":4.5,"c":12},{"x":9.75,"y":4.5,"c":15},{"x":10,"y":4.5,"c":20},{"x":10.25,"y":4.5,"c":15},{"x":10.5,"y":4.5,"c":15},{"x":10.75,"y":4.5,"c":10},{"x":11,"y":4.5,"c":15},{"x":11.25,"y":4.5,"c":1},{"x":11.5,"y":4.5,"c":5},{"x":11.75,"y":4.5,"c":15},{"x":12,"y":4.5,"c":60},{"x":12.25,"y":4.5,"c":15},{"x":12.5,"y":4.5,"c":10},
{"x":3,"y":4.2,"c":1},{"x":3.25,"y":4.2,"c":5},{"x":3.5,"y":4.2,"c":20},{"x":3.75,"y":4.2,"c":5},{"x":4,"y":4.2,"c":3},{"x":4.25,"y":4.2,"c":8},{"x":4.5,"y":4.2,"c":8},{"x":4.75,"y":4.2,"c":15},{"x":5,"y":4.2,"c":10},{"x":5.25,"y":4.2,"c":8},{"x":5.5,"y":4.2,"c":5},{"x":5.75,"y":4.2,"c":5},{"x":6,"y":4.2,"c":30},{"x":6.25,"y":4.2,"c":90},{"x":6.5,"y":4.2,"c":100},{"x":6.75,"y":4.2,"c":500},{"x":7,"y":4.2,"c":30},{"x":7.25,"y":4.2,"c":5},{"x":7.5,"y":4.2,"c":3},{"x":9.25,"y":4.2,"c":3},{"x":9.5,"y":4.2,"c":8},{"x":9.75,"y":4.2,"c":8},{"x":10,"y":4.2,"c":10},{"x":10.25,"y":4.2,"c":8},{"x":10.5,"y":4.2,"c":3},{"x":10.75,"y":4.2,"c":5},{"x":11,"y":4.2,"c":1},{"x":11.25,"y":4.2,"c":4},{"x":11.5,"y":4.2,"c":4},{"x":11.75,"y":4.2,"c":8},{"x":12,"y":4.2,"c":15},{"x":12.25,"y":4.2,"c":3},
{"x":2,"y":3.9,"c":1},{"x":2.25,"y":3.9,"c":1},{"x":2.5,"y":3.9,"c":3},{"x":3,"y":3.9,"c":1},{"x":3.25,"y":3.9,"c":8},{"x":3.5,"y":3.9,"c":25},{"x":3.75,"y":3.9,"c":5},{"x":4,"y":3.9,"c":3},{"x":4.25,"y":3.9,"c":1},{"x":4.75,"y":3.9,"c":10},{"x":5,"y":3.9,"c":10},{"x":5.25,"y":3.9,"c":8},{"x":5.5,"y":3.9,"c":5},{"x":5.75,"y":3.9,"c":8},{"x":6,"y":3.9,"c":50},{"x":6.25,"y":3.9,"c":100},{"x":6.5,"y":3.9,"c":250},{"x":6.75,"y":3.9,"c":800},{"x":7,"y":3.9,"c":25},{"x":7.25,"y":3.9,"c":2},{"x":7.5,"y":3.9,"c":3},{"x":9.25,"y":3.9,"c":8},{"x":9.5,"y":3.9,"c":8},{"x":9.75,"y":3.9,"c":5},{"x":10,"y":3.9,"c":5},{"x":10.25,"y":3.9,"c":1},{"x":10.5,"y":3.9,"c":4},{"x":11.25,"y":3.9,"c":4},{"x":11.5,"y":3.9,"c":4},{"x":11.75,"y":3.9,"c":3},{"x":12,"y":3.9,"c":3},{"x":12.25,"y":3.9,"c":1},
{"x":1.75,"y":3.6,"c":1},{"x":2,"y":3.6,"c":3},{"x":2.25,"y":3.6,"c":1},{"x":3,"y":3.6,"c":1},{"x":3.25,"y":3.6,"c":3},{"x":3.5,"y":3.6,"c":8},{"x":3.75,"y":3.6,"c":3},{"x":4,"y":3.6,"c":1},{"x":4.5,"y":3.6,"c":1},{"x":5,"y":3.6,"c":5},{"x":5.25,"y":3.6,"c":15},{"x":5.5,"y":3.6,"c":15},{"x":5.75,"y":3.6,"c":15},{"x":6,"y":3.6,"c":60},{"x":6.25,"y":3.6,"c":150},{"x":6.5,"y":3.6,"c":400},{"x":6.75,"y":3.6,"c":300},{"x":7,"y":3.6,"c":30},{"x":7.25,"y":3.6,"c":1},{"x":10,"y":3.6,"c":1},{"x":10.25,"y":3.6,"c":1},{"x":10.5,"y":3.6,"c":1},
{"x":2.5,"y":3.3,"c":3},{"x":2.75,"y":3.3,"c":5},{"x":3,"y":3.3,"c":8},{"x":3.25,"y":3.3,"c":15},{"x":3.5,"y":3.3,"c":8},{"x":3.75,"y":3.3,"c":1},{"x":5.5,"y":3.3,"c":30},{"x":5.75,"y":3.3,"c":30},{"x":6,"y":3.3,"c":70},{"x":6.25,"y":3.3,"c":600},{"x":6.5,"y":3.3,"c":300},{"x":6.75,"y":3.3,"c":400},{"x":7,"y":3.3,"c":30},{"x":8.25,"y":3.3,"c":1},{"x":9.25,"y":3.3,"c":1},{"x":9.5,"y":3.3,"c":1},{"x":9.75,"y":3.3,"c":3},{"x":10.25,"y":3.3,"c":1},{"x":11.75,"y":3.3,"c":1},
{"x":2.25,"y":3,"c":15},{"x":2.5,"y":3,"c":60},{"x":2.75,"y":3,"c":60},{"x":3,"y":3,"c":50},{"x":3.25,"y":3,"c":50},{"x":3.5,"y":3,"c":10},{"x":3.75,"y":3,"c":8},{"x":4,"y":3,"c":8},{"x":4.25,"y":3,"c":3},{"x":4.5,"y":3,"c":3},{"x":4.75,"y":3,"c":3},{"x":5,"y":3,"c":3},{"x":5.25,"y":3,"c":1},{"x":5.5,"y":3,"c":8},{"x":5.75,"y":3,"c":15},{"x":6,"y":3,"c":100},{"x":6.25,"y":3,"c":400},{"x":6.5,"y":3,"c":300},{"x":6.75,"y":3,"c":200},{"x":7,"y":3,"c":3},{"x":7.25,"y":3,"c":1},{"x":7.5,"y":3,"c":1},{"x":7.75,"y":3,"c":1},{"x":9.25,"y":3,"c":1},
{"x":2.25,"y":2.7,"c":8},{"x":2.5,"y":2.7,"c":70},{"x":2.75,"y":2.7,"c":80},{"x":3,"y":2.7,"c":60},{"x":3.25,"y":2.7,"c":20},{"x":3.5,"y":2.7,"c":8},{"x":3.75,"y":2.7,"c":10},{"x":4,"y":2.7,"c":10},{"x":4.25,"y":2.7,"c":3},{"x":4.5,"y":2.7,"c":1},{"x":4.75,"y":2.7,"c":1},{"x":5.5,"y":2.7,"c":4},{"x":5.75,"y":2.7,"c":8},{"x":6,"y":2.7,"c":60},{"x":6.25,"y":2.7,"c":150},{"x":6.5,"y":2.7,"c":80},{"x":6.75,"y":2.7,"c":60},{"x":7.5,"y":2.7,"c":1},{"x":9.75,"y":2.7,"c":1},{"x":10.75,"y":2.7,"c":3},{"x":11,"y":2.7,"c":3},
{"x":2,"y":2.4,"c":3},{"x":2.25,"y":2.4,"c":20},{"x":2.5,"y":2.4,"c":50},{"x":2.75,"y":2.4,"c":30},{"x":3,"y":2.4,"c":30},{"x":3.25,"y":2.4,"c":10},{"x":3.5,"y":2.4,"c":3},{"x":4,"y":2.4,"c":15},{"x":4.25,"y":2.4,"c":15},{"x":4.5,"y":2.4,"c":10},{"x":4.75,"y":2.4,"c":3},{"x":5.5,"y":2.4,"c":3},{"x":5.75,"y":2.4,"c":8},{"x":6,"y":2.4,"c":50},{"x":6.25,"y":2.4,"c":60},{"x":6.5,"y":2.4,"c":50},{"x":6.75,"y":2.4,"c":40},{"x":7.5,"y":2.4,"c":1},{"x":7.75,"y":2.4,"c":5},{"x":10.5,"y":2.4,"c":3},{"x":10.75,"y":2.4,"c":1},{"x":11,"y":2.4,"c":3},
{"x":1.5,"y":2.1,"c":1},{"x":1.75,"y":2.1,"c":1},{"x":2,"y":2.1,"c":20},{"x":2.25,"y":2.1,"c":30},{"x":2.5,"y":2.1,"c":50},{"x":2.75,"y":2.1,"c":80},{"x":3,"y":2.1,"c":60},{"x":3.25,"y":2.1,"c":3},{"x":3.5,"y":2.1,"c":3},{"x":3.75,"y":2.1,"c":1},{"x":4,"y":2.1,"c":4},{"x":4.25,"y":2.1,"c":4},{"x":4.5,"y":2.1,"c":1},{"x":4.75,"y":2.1,"c":3},{"x":5,"y":2.1,"c":1},{"x":6,"y":2.1,"c":15},{"x":6.25,"y":2.1,"c":25},{"x":6.5,"y":2.1,"c":15},{"x":6.75,"y":2.1,"c":2},{"x":10.75,"y":2.1,"c":8},
{"x":1.5,"y":1.8,"c":30},{"x":1.75,"y":1.8,"c":10},{"x":2,"y":1.8,"c":20},{"x":2.25,"y":1.8,"c":60},{"x":2.5,"y":1.8,"c":60},{"x":2.75,"y":1.8,"c":100},{"x":3,"y":1.8,"c":70},{"x":3.25,"y":1.8,"c":3},{"x":3.5,"y":1.8,"c":1},{"x":3.75,"y":1.8,"c":3},{"x":7.5,"y":1.8,"c":1},{"x":9.5,"y":1.8,"c":3},{"x":10.5,"y":1.8,"c":1},{"x":10.75,"y":1.8,"c":3},{"x":11,"y":1.8,"c":1},
{"x":1.5,"y":1.5,"c":20},{"x":1.75,"y":1.5,"c":30},{"x":2,"y":1.5,"c":150},{"x":2.25,"y":1.5,"c":50},{"x":2.5,"y":1.5,"c":70},{"x":2.75,"y":1.5,"c":50},{"x":3,"y":1.5,"c":50},{"x":3.25,"y":1.5,"c":30},{"x":3.5,"y":1.5,"c":25},{"x":3.75,"y":1.5,"c":15},{"x":4,"y":1.5,"c":8},{"x":7.75,"y":1.5,"c":1},{"x":9,"y":1.5,"c":1},{"x":10.5,"y":1.5,"c":3},
{"x":1.5,"y":1.2,"c":3},{"x":1.75,"y":1.2,"c":1},{"x":2,"y":1.2,"c":150},{"x":2.25,"y":1.2,"c":30},{"x":2.5,"y":1.2,"c":60},{"x":2.75,"y":1.2,"c":30},{"x":3,"y":1.2,"c":15},{"x":3.25,"y":1.2,"c":8},{"x":3.5,"y":1.2,"c":3},{"x":8.25,"y":1.2,"c":5},{"x":9.5,"y":1.2,"c":5},{"x":11,"y":1.2,"c":1},
{"x":1.75,"y":0.9,"c":1},{"x":2,"y":0.9,"c":8},{"x":2.25,"y":0.9,"c":30},{"x":2.5,"y":0.9,"c":1},{"x":3,"y":0.9,"c":1},{"x":7.75,"y":0.9,"c":1},{"x":8.25,"y":0.9,"c":5},{"x":9.5,"y":0.9,"c":8},
{"x":1.75,"y":0.6,"c":1},{"x":2,"y":0.6,"c":10},{"x":2.25,"y":0.6,"c":1},{"x":2.75,"y":0.6,"c":1},{"x":7,"y":0.6,"c":1},{"x":7.25,"y":0.6,"c":4},{"x":7.5,"y":0.6,"c":3},{"x":8,"y":0.6,"c":1},{"x":9,"y":0.6,"c":1},{"x":9.5,"y":0.6,"c":1}],
"mcld":[
{"x":12.25,"y":13.8,"c":100},{"x":12.5,"y":13.8,"c":50},{"x":12.75,"y":13.8,"c":20},{"x":13,"y":13.8,"c":12},
{"x":12.25,"y":13.5,"c":25},{"x":12.5,"y":13.5,"c":20},{"x":12.75,"y":13.5,"c":15},{"x":13,"y":13.5,"c":12},
{"x":12.25,"y":13.2,"c":12},{"x":12.5,"y":13.2,"c":8},{"x":12.75,"y":13.2,"c":2},
{"x":12.25,"y":12.9,"c":5},{"x":12.5,"y":12.9,"c":8},{"x":12.75,"y":12.9,"c":1},
{"x":12.25,"y":12.6,"c":1},
{"x":12.5,"y":12.3,"c":1},
{"x":12.5,"y":12,"c":1},
{"x":12.25,"y":11.7,"c":1},{"x":12.5,"y":11.7,"c":1},
{"x":12.25,"y":11.4,"c":80},{"x":12.5,"y":11.4,"c":300},{"x":12.75,"y":11.4,"c":100},{"x":13,"y":11.4,"c":40},
{"x":11.5,"y":11.1,"c":1},{"x":11.75,"y":11.1,"c":12},{"x":12,"y":11.1,"c":25},{"x":12.25,"y":11.1,"c":40},{"x":12.5,"y":11.1,"c":400},{"x":12.75,"y":11.1,"c":80},{"x":13,"y":11.1,"c":4},
{"x":11.25,"y":10.8,"c":15},{"x":11.5,"y":10.8,"c":40},{"x":11.75,"y":10.8,"c":30},{"x":12,"y":10.8,"c":40},{"x":12.25,"y":10.8,"c":100},{"x":12.5,"y":10.8,"c":150},{"x":12.75,"y":10.8,"c":60},{"x":13,"y":10.8,"c":10},
{"x":11.25,"y":10.5,"c":12},{"x":11.5,"y":10.5,"c":20},{"x":11.75,"y":10.5,"c":60},{"x":12,"y":10.5,"c":60},{"x":12.25,"y":10.5,"c":50},{"x":12.5,"y":10.5,"c":50},{"x":12.75,"y":10.5,"c":8},{"x":13,"y":10.5,"c":5},
{"x":10.75,"y":10.2,"c":5},{"x":11.25,"y":10.2,"c":25},{"x":11.5,"y":10.2,"c":60},{"x":11.75,"y":10.2,"c":80},{"x":12,"y":10.2,"c":50},{"x":12.25,"y":10.2,"c":30},{"x":12.5,"y":10.2,"c":30},
{"x":10,"y":9.9,"c":1},{"x":10.25,"y":9.9,"c":3},{"x":10.5,"y":9.9,"c":3},{"x":10.75,"y":9.9,"c":4},{"x":11,"y":9.9,"c":1},{"x":11.25,"y":9.9,"c":25},{"x":11.5,"y":9.9,"c":50},{"x":11.75,"y":9.9,"c":100},{"x":12,"y":9.9,"c":50},{"x":12.25,"y":9.9,"c":25},{"x":12.5,"y":9.9,"c":25},
{"x":10,"y":9.6,"c":3},{"x":10.25,"y":9.6,"c":10},{"x":10.5,"y":9.6,"c":10},{"x":10.75,"y":9.6,"c":10},{"x":11,"y":9.6,"c":12},{"x":11.25,"y":9.6,"c":25},{"x":11.5,"y":9.6,"c":40},{"x":11.75,"y":9.6,"c":100},{"x":12,"y":9.6,"c":60},{"x":12.25,"y":9.6,"c":25},{"x":12.5,"y":9.6,"c":30},
{"x":9.5,"y":9.3,"c":3},{"x":9.75,"y":9.3,"c":4},{"x":10,"y":9.3,"c":5},{"x":10.25,"y":9.3,"c":25},{"x":10.5,"y":9.3,"c":20},{"x":10.75,"y":9.3,"c":20},{"x":11,"y":9.3,"c":30},{"x":11.25,"y":9.3,"c":40},{"x":11.5,"y":9.3,"c":50},{"x":11.75,"y":9.3,"c":60},{"x":12,"y":9.3,"c":50},{"x":12.25,"y":9.3,"c":20},{"x":12.5,"y":9.3,"c":25},
{"x":9.25,"y":9,"c":4},{"x":9.5,"y":9,"c":1},{"x":9.75,"y":9,"c":3},{"x":10,"y":9,"c":20},{"x":10.25,"y":9,"c":30},{"x":10.5,"y":9,"c":25},{"x":10.75,"y":9,"c":30},{"x":11,"y":9,"c":40},{"x":11.25,"y":9,"c":50},{"x":11.5,"y":9,"c":50},{"x":11.75,"y":9,"c":70},{"x":12,"y":9,"c":50},{"x":12.25,"y":9,"c":25},{"x":12.5,"y":9,"c":20},
{"x":8.5,"y":8.7,"c":1},{"x":9,"y":8.7,"c":8},{"x":9.25,"y":8.7,"c":4},{"x":9.5,"y":8.7,"c":1},{"x":9.75,"y":8.7,"c":4},{"x":10,"y":8.7,"c":25},{"x":10.25,"y":8.7,"c":30},{"x":10.5,"y":8.7,"c":40},{"x":10.75,"y":8.7,"c":25},{"x":11,"y":8.7,"c":25},{"x":11.25,"y":8.7,"c":40},{"x":11.5,"y":8.7,"c":60},{"x":11.75,"y":8.7,"c":60},{"x":12,"y":8.7,"c":40},{"x":12.25,"y":8.7,"c":25},{"x":12.5,"y":8.7,"c":15},
{"x":8,"y":8.4,"c":1},{"x":8.5,"y":8.4,"c":1},{"x":8.75,"y":8.4,"c":4},{"x":9,"y":8.4,"c":8},{"x":9.25,"y":8.4,"c":5},{"x":9.5,"y":8.4,"c":1},{"x":9.75,"y":8.4,"c":80},{"x":10,"y":8.4,"c":25},{"x":10.25,"y":8.4,"c":30},{"x":10.5,"y":8.4,"c":30},{"x":10.75,"y":8.4,"c":12},{"x":11,"y":8.4,"c":30},{"x":11.25,"y":8.4,"c":70},{"x":11.5,"y":8.4,"c":120},{"x":11.75,"y":8.4,"c":70},{"x":12,"y":8.4,"c":30},{"x":12.25,"y":8.4,"c":8},{"x":12.5,"y":8.4,"c":5},
{"x":7.75,"y":8.1,"c":3},{"x":8,"y":8.1,"c":1},{"x":8.25,"y":8.1,"c":1},{"x":8.5,"y":8.1,"c":8},{"x":8.75,"y":8.1,"c":10},{"x":9,"y":8.1,"c":20},{"x":9.25,"y":8.1,"c":30},{"x":9.5,"y":8.1,"c":5},{"x":9.75,"y":8.1,"c":150},{"x":10,"y":8.1,"c":30},{"x":10.25,"y":8.1,"c":100},{"x":10.5,"y":8.1,"c":40},{"x":10.75,"y":8.1,"c":15},{"x":11,"y":8.1,"c":60},{"x":11.25,"y":8.1,"c":100},{"x":11.5,"y":8.1,"c":130},{"x":11.75,"y":8.1,"c":60},{"x":12,"y":8.1,"c":30},{"x":12.25,"y":8.1,"c":8},{"x":12.5,"y":8.1,"c":5},
{"x":8,"y":7.8,"c":1},{"x":8.25,"y":7.8,"c":1},{"x":8.5,"y":7.8,"c":5},{"x":8.75,"y":7.8,"c":1},{"x":9,"y":7.8,"c":30},{"x":9.25,"y":7.8,"c":10},{"x":9.5,"y":7.8,"c":10},{"x":9.75,"y":7.8,"c":150},{"x":10,"y":7.8,"c":40},{"x":10.25,"y":7.8,"c":50},{"x":10.5,"y":7.8,"c":25},{"x":10.75,"y":7.8,"c":15},{"x":11,"y":7.8,"c":15},{"x":11.25,"y":7.8,"c":100},{"x":11.5,"y":7.8,"c":130},{"x":11.75,"y":7.8,"c":80},{"x":12,"y":7.8,"c":20},{"x":12.25,"y":7.8,"c":8},{"x":12.5,"y":7.8,"c":5},
{"x":7.25,"y":7.5,"c":1},{"x":7.5,"y":7.5,"c":1},{"x":7.75,"y":7.5,"c":1},{"x":8,"y":7.5,"c":5},{"x":8.25,"y":7.5,"c":15},{"x":8.5,"y":7.5,"c":20},{"x":8.75,"y":7.5,"c":30},{"x":9,"y":7.5,"c":15},{"x":9.25,"y":7.5,"c":40},{"x":9.5,"y":7.5,"c":15},{"x":9.75,"y":7.5,"c":50},{"x":10,"y":7.5,"c":40},{"x":10.25,"y":7.5,"c":20},{"x":10.5,"y":7.5,"c":15},{"x":10.75,"y":7.5,"c":15},{"x":11,"y":7.5,"c":30},{"x":11.25,"y":7.5,"c":50},{"x":11.5,"y":7.5,"c":60},{"x":11.75,"y":7.5,"c":50},{"x":12,"y":7.5,"c":20},{"x":12.25,"y":7.5,"c":10},{"x":12.5,"y":7.5,"c":1},{"x":12.75,"y":7.5,"c":1},
{"x":6.75,"y":7.2,"c":1},{"x":7.25,"y":7.2,"c":1},{"x":7.5,"y":7.2,"c":3},{"x":7.75,"y":7.2,"c":30},{"x":8,"y":7.2,"c":40},{"x":8.25,"y":7.2,"c":80},{"x":8.5,"y":7.2,"c":50},{"x":8.75,"y":7.2,"c":30},{"x":9,"y":7.2,"c":30},{"x":9.25,"y":7.2,"c":30},{"x":9.5,"y":7.2,"c":25},{"x":9.75,"y":7.2,"c":50},{"x":10,"y":7.2,"c":120},{"x":10.25,"y":7.2,"c":150},{"x":10.5,"y":7.2,"c":30},{"x":10.75,"y":7.2,"c":15},{"x":11,"y":7.2,"c":60},{"x":11.25,"y":7.2,"c":250},{"x":11.5,"y":7.2,"c":300},{"x":11.75,"y":7.2,"c":60},{"x":12,"y":7.2,"c":30},{"x":12.25,"y":7.2,"c":10},{"x":12.5,"y":7.2,"c":1},
{"x":6.5,"y":6.9,"c":1},{"x":7.5,"y":6.9,"c":3},{"x":7.75,"y":6.9,"c":120},{"x":8,"y":6.9,"c":60},{"x":8.25,"y":6.9,"c":40},{"x":8.5,"y":6.9,"c":30},{"x":8.75,"y":6.9,"c":30},{"x":9,"y":6.9,"c":20},{"x":9.25,"y":6.9,"c":20},{"x":9.5,"y":6.9,"c":25},{"x":9.75,"y":6.9,"c":60},{"x":10,"y":6.9,"c":150},{"x":10.25,"y":6.9,"c":200},{"x":10.5,"y":6.9,"c":150},{"x":10.75,"y":6.9,"c":30},{"x":11,"y":6.9,"c":40},{"x":11.25,"y":6.9,"c":300},{"x":11.5,"y":6.9,"c":600},{"x":11.75,"y":6.9,"c":100},{"x":12,"y":6.9,"c":40},{"x":12.25,"y":6.9,"c":15},{"x":12.5,"y":6.9,"c":8},
{"x":6.25,"y":6.6,"c":3},{"x":7,"y":6.6,"c":1},{"x":7.25,"y":6.6,"c":1},{"x":7.5,"y":6.6,"c":8},{"x":7.75,"y":6.6,"c":80},{"x":8,"y":6.6,"c":50},{"x":8.25,"y":6.6,"c":40},{"x":8.5,"y":6.6,"c":30},{"x":8.75,"y":6.6,"c":20},{"x":9,"y":6.6,"c":12},{"x":9.25,"y":6.6,"c":8},{"x":9.5,"y":6.6,"c":30},{"x":9.75,"y":6.6,"c":80},{"x":10,"y":6.6,"c":100},{"x":10.25,"y":6.6,"c":200},{"x":10.5,"y":6.6,"c":100},{"x":10.75,"y":6.6,"c":40},{"x":11,"y":6.6,"c":60},{"x":11.25,"y":6.6,"c":200},{"x":11.5,"y":6.6,"c":500},{"x":11.75,"y":6.6,"c":120},{"x":12,"y":6.6,"c":40},{"x":12.25,"y":6.6,"c":20},{"x":12.5,"y":6.6,"c":2},
{"x":6.25,"y":6.3,"c":3},{"x":6.5,"y":6.3,"c":1},{"x":7,"y":6.3,"c":3},{"x":7.25,"y":6.3,"c":5},{"x":7.5,"y":6.3,"c":20},{"x":7.75,"y":6.3,"c":30},{"x":8,"y":6.3,"c":40},{"x":8.25,"y":6.3,"c":40},{"x":8.5,"y":6.3,"c":30},{"x":8.75,"y":6.3,"c":30},{"x":9,"y":6.3,"c":30},{"x":9.25,"y":6.3,"c":30},{"x":9.5,"y":6.3,"c":80},{"x":9.75,"y":6.3,"c":150},{"x":10,"y":6.3,"c":150},{"x":10.25,"y":6.3,"c":80},{"x":10.5,"y":6.3,"c":30},{"x":10.75,"y":6.3,"c":30},{"x":11,"y":6.3,"c":100},{"x":11.25,"y":6.3,"c":500},{"x":11.5,"y":6.3,"c":700},{"x":11.75,"y":6.3,"c":150},{"x":12,"y":6.3,"c":80},{"x":12.25,"y":6.3,"c":30},{"x":12.5,"y":6.3,"c":8},
{"x":5.5,"y":6,"c":1},{"x":6,"y":6,"c":1},{"x":6.25,"y":6,"c":5},{"x":6.5,"y":6,"c":5},{"x":6.75,"y":6,"c":1},{"x":7,"y":6,"c":3},{"x":7.25,"y":6,"c":3},{"x":7.5,"y":6,"c":8},{"x":7.75,"y":6,"c":15},{"x":8,"y":6,"c":25},{"x":8.25,"y":6,"c":70},{"x":8.5,"y":6,"c":30},{"x":8.75,"y":6,"c":80},{"x":9,"y":6,"c":30},{"x":9.25,"y":6,"c":40},{"x":9.5,"y":6,"c":30},{"x":9.75,"y":6,"c":40},{"x":10,"y":6,"c":60},{"x":10.25,"y":6,"c":60},{"x":10.5,"y":6,"c":40},{"x":10.75,"y":6,"c":300},{"x":11,"y":6,"c":1300},{"x":11.25,"y":6,"c":600},{"x":11.5,"y":6,"c":200},{"x":11.75,"y":6,"c":120},{"x":12,"y":6,"c":150},{"x":12.25,"y":6,"c":60},{"x":12.5,"y":6,"c":15},
{"x":3.5,"y":5.7,"c":1},{"x":5.25,"y":5.7,"c":1},{"x":5.5,"y":5.7,"c":30},{"x":5.75,"y":5.7,"c":3},{"x":6,"y":5.7,"c":3},{"x":6.25,"y":5.7,"c":4},{"x":6.5,"y":5.7,"c":8},{"x":6.75,"y":5.7,"c":8},{"x":7,"y":5.7,"c":5},{"x":7.25,"y":5.7,"c":8},{"x":7.5,"y":5.7,"c":12},{"x":7.75,"y":5.7,"c":15},{"x":8,"y":5.7,"c":25},{"x":8.25,"y":5.7,"c":30},{"x":8.5,"y":5.7,"c":30},{"x":8.75,"y":5.7,"c":10},{"x":9,"y":5.7,"c":8},{"x":9.25,"y":5.7,"c":10},{"x":9.5,"y":5.7,"c":25},{"x":9.75,"y":5.7,"c":8},{"x":10,"y":5.7,"c":25},{"x":10.25,"y":5.7,"c":25},{"x":10.5,"y":5.7,"c":40},{"x":10.75,"y":5.7,"c":500},{"x":11,"y":5.7,"c":600},{"x":11.25,"y":5.7,"c":400},{"x":11.5,"y":5.7,"c":250},{"x":11.75,"y":5.7,"c":300},{"x":12,"y":5.7,"c":300},{"x":12.25,"y":5.7,"c":120},{"x":12.5,"y":5.7,"c":30},
{"x":5.25,"y":5.4,"c":1},{"x":5.5,"y":5.4,"c":8},{"x":5.75,"y":5.4,"c":8},{"x":6,"y":5.4,"c":3},{"x":6.25,"y":5.4,"c":5},{"x":6.5,"y":5.4,"c":8},{"x":6.75,"y":5.4,"c":1},{"x":7,"y":5.4,"c":3},{"x":7.25,"y":5.4,"c":1},{"x":7.5,"y":5.4,"c":12},{"x":7.75,"y":5.4,"c":20},{"x":8,"y":5.4,"c":30},{"x":8.25,"y":5.4,"c":10},{"x":8.5,"y":5.4,"c":20},{"x":8.75,"y":5.4,"c":8},{"x":9,"y":5.4,"c":10},{"x":9.25,"y":5.4,"c":20},{"x":9.5,"y":5.4,"c":25},{"x":9.75,"y":5.4,"c":30},{"x":10,"y":5.4,"c":30},{"x":10.25,"y":5.4,"c":50},{"x":10.5,"y":5.4,"c":100},{"x":10.75,"y":5.4,"c":600},{"x":11,"y":5.4,"c":700},{"x":11.25,"y":5.4,"c":400},{"x":11.5,"y":5.4,"c":300},{"x":11.75,"y":5.4,"c":300},{"x":12,"y":5.4,"c":300},{"x":12.25,"y":5.4,"c":100},{"x":12.5,"y":5.4,"c":20},{"x":12.75,"y":5.4,"c":40},
{"x":4.75,"y":5.1,"c":12},{"x":5,"y":5.1,"c":12},{"x":5.25,"y":5.1,"c":15},{"x":5.5,"y":5.1,"c":15},{"x":6,"y":5.1,"c":1},{"x":6.25,"y":5.1,"c":3},{"x":6.5,"y":5.1,"c":5},{"x":6.75,"y":5.1,"c":1},{"x":7,"y":5.1,"c":1},{"x":7.25,"y":5.1,"c":5},{"x":7.5,"y":5.1,"c":15},{"x":7.75,"y":5.1,"c":25},{"x":8,"y":5.1,"c":25},{"x":8.25,"y":5.1,"c":25},{"x":8.5,"y":5.1,"c":25},{"x":8.75,"y":5.1,"c":25},{"x":9,"y":5.1,"c":30},{"x":9.25,"y":5.1,"c":50},{"x":9.5,"y":5.1,"c":40},{"x":9.75,"y":5.1,"c":50},{"x":10,"y":5.1,"c":40},{"x":10.25,"y":5.1,"c":80},{"x":10.5,"y":5.1,"c":120},{"x":10.75,"y":5.1,"c":500},{"x":11,"y":5.1,"c":400},{"x":11.25,"y":5.1,"c":500},{"x":11.5,"y":5.1,"c":300},{"x":11.75,"y":5.1,"c":250},{"x":12,"y":5.1,"c":200},{"x":12.25,"y":5.1,"c":80},{"x":12.5,"y":5.1,"c":15},{"x":12.75,"y":5.1,"c":25},
{"x":4.5,"y":4.8,"c":1},{"x":4.75,"y":4.8,"c":3},{"x":5,"y":4.8,"c":25},{"x":5.25,"y":4.8,"c":25},{"x":5.5,"y":4.8,"c":25},{"x":6,"y":4.8,"c":1},{"x":6.25,"y":4.8,"c":5},{"x":6.5,"y":4.8,"c":8},{"x":6.75,"y":4.8,"c":5},{"x":7,"y":4.8,"c":5},{"x":7.25,"y":4.8,"c":5},{"x":7.5,"y":4.8,"c":15},{"x":7.75,"y":4.8,"c":30},{"x":8,"y":4.8,"c":30},{"x":8.25,"y":4.8,"c":25},{"x":8.5,"y":4.8,"c":50},{"x":8.75,"y":4.8,"c":40},{"x":9,"y":4.8,"c":40},{"x":9.25,"y":4.8,"c":30},{"x":9.5,"y":4.8,"c":25},{"x":9.75,"y":4.8,"c":50},{"x":10,"y":4.8,"c":50},{"x":10.25,"y":4.8,"c":100},{"x":10.5,"y":4.8,"c":100},{"x":10.75,"y":4.8,"c":300},{"x":11,"y":4.8,"c":300},{"x":11.25,"y":4.8,"c":200},{"x":11.5,"y":4.8,"c":200},{"x":11.75,"y":4.8,"c":300},{"x":12,"y":4.8,"c":100},{"x":12.25,"y":4.8,"c":60},{"x":12.5,"y":4.8,"c":12},{"x":12.75,"y":4.8,"c":15},
{"x":3.75,"y":4.5,"c":1},{"x":4.5,"y":4.5,"c":3},{"x":4.75,"y":4.5,"c":20},{"x":5,"y":4.5,"c":25},{"x":5.25,"y":4.5,"c":30},{"x":5.5,"y":4.5,"c":25},{"x":5.75,"y":4.5,"c":20},{"x":6,"y":4.5,"c":1},{"x":6.25,"y":4.5,"c":3},{"x":6.75,"y":4.5,"c":1},{"x":7,"y":4.5,"c":3},{"x":7.25,"y":4.5,"c":10},{"x":7.5,"y":4.5,"c":30},{"x":7.75,"y":4.5,"c":40},{"x":8,"y":4.5,"c":200},{"x":8.25,"y":4.5,"c":25},{"x":8.5,"y":4.5,"c":25},{"x":8.75,"y":4.5,"c":25},{"x":9,"y":4.5,"c":15},{"x":9.25,"y":4.5,"c":15},{"x":9.5,"y":4.5,"c":20},{"x":9.75,"y":4.5,"c":30},{"x":10,"y":4.5,"c":20},{"x":10.25,"y":4.5,"c":20},{"x":10.5,"y":4.5,"c":50},{"x":10.75,"y":4.5,"c":80},{"x":11,"y":4.5,"c":60},{"x":11.25,"y":4.5,"c":120},{"x":11.5,"y":4.5,"c":150},{"x":11.75,"y":4.5,"c":500},{"x":12,"y":4.5,"c":80},{"x":12.25,"y":4.5,"c":30},{"x":12.5,"y":4.5,"c":10},{"x":12.75,"y":4.5,"c":1},
{"x":3.25,"y":4.2,"c":1},{"x":3.5,"y":4.2,"c":3},{"x":4.5,"y":4.2,"c":5},{"x":4.75,"y":4.2,"c":10},{"x":5,"y":4.2,"c":30},{"x":5.25,"y":4.2,"c":30},{"x":5.5,"y":4.2,"c":40},{"x":5.75,"y":4.2,"c":30},{"x":6,"y":4.2,"c":1},{"x":6.25,"y":4.2,"c":3},{"x":6.5,"y":4.2,"c":1},{"x":6.75,"y":4.2,"c":8},{"x":7,"y":4.2,"c":8},{"x":7.25,"y":4.2,"c":40},{"x":7.5,"y":4.2,"c":80},{"x":7.75,"y":4.2,"c":150},{"x":8,"y":4.2,"c":300},{"x":8.25,"y":4.2,"c":40},{"x":8.5,"y":4.2,"c":20},{"x":8.75,"y":4.2,"c":15},{"x":9,"y":4.2,"c":15},{"x":9.25,"y":4.2,"c":30},{"x":9.5,"y":4.2,"c":30},{"x":9.75,"y":4.2,"c":40},{"x":10,"y":4.2,"c":40},{"x":10.25,"y":4.2,"c":30},{"x":10.5,"y":4.2,"c":30},{"x":10.75,"y":4.2,"c":40},{"x":11,"y":4.2,"c":60},{"x":11.25,"y":4.2,"c":100},{"x":11.5,"y":4.2,"c":100},{"x":11.75,"y":4.2,"c":700},{"x":12,"y":4.2,"c":100},{"x":12.25,"y":4.2,"c":30},{"x":12.5,"y":4.2,"c":10},
{"x":3.5,"y":3.9,"c":3},{"x":4.25,"y":3.9,"c":1},{"x":4.5,"y":3.9,"c":15},{"x":4.75,"y":3.9,"c":25},{"x":5,"y":3.9,"c":25},{"x":5.25,"y":3.9,"c":15},{"x":5.5,"y":3.9,"c":12},{"x":5.75,"y":3.9,"c":20},{"x":6,"y":3.9,"c":8},{"x":6.25,"y":3.9,"c":25},{"x":6.5,"y":3.9,"c":150},{"x":6.75,"y":3.9,"c":800},{"x":7,"y":3.9,"c":60},{"x":7.25,"y":3.9,"c":25},{"x":7.5,"y":3.9,"c":50},{"x":7.75,"y":3.9,"c":100},{"x":8,"y":3.9,"c":50},{"x":8.25,"y":3.9,"c":25},{"x":8.5,"y":3.9,"c":15},{"x":8.75,"y":3.9,"c":8},{"x":9,"y":3.9,"c":15},{"x":9.25,"y":3.9,"c":20},{"x":9.5,"y":3.9,"c":15},{"x":9.75,"y":3.9,"c":5},{"x":10,"y":3.9,"c":10},{"x":10.25,"y":3.9,"c":20},{"x":10.5,"y":3.9,"c":30},{"x":10.75,"y":3.9,"c":40},{"x":11,"y":3.9,"c":40},{"x":11.25,"y":3.9,"c":80},{"x":11.5,"y":3.9,"c":150},{"x":11.75,"y":3.9,"c":700},{"x":12,"y":3.9,"c":150},{"x":12.25,"y":3.9,"c":30},{"x":12.5,"y":3.9,"c":12},
{"x":2,"y":3.6,"c":1},{"x":3.5,"y":3.6,"c":1},{"x":3.75,"y":3.6,"c":3},{"x":4,"y":3.6,"c":5},{"x":4.25,"y":3.6,"c":15},{"x":4.5,"y":3.6,"c":25},{"x":4.75,"y":3.6,"c":15},{"x":5,"y":3.6,"c":20},{"x":5.25,"y":3.6,"c":15},{"x":5.5,"y":3.6,"c":15},{"x":5.75,"y":3.6,"c":15},{"x":6,"y":3.6,"c":15},{"x":6.25,"y":3.6,"c":60},{"x":6.5,"y":3.6,"c":400},{"x":6.75,"y":3.6,"c":1000},{"x":7,"y":3.6,"c":70},{"x":7.25,"y":3.6,"c":25},{"x":7.5,"y":3.6,"c":25},{"x":7.75,"y":3.6,"c":60},{"x":8,"y":3.6,"c":15},{"x":8.25,"y":3.6,"c":5},{"x":8.5,"y":3.6,"c":10},{"x":8.75,"y":3.6,"c":15},{"x":9,"y":3.6,"c":15},{"x":9.25,"y":3.6,"c":20},{"x":9.5,"y":3.6,"c":30},{"x":9.75,"y":3.6,"c":30},{"x":10,"y":3.6,"c":3},{"x":10.25,"y":3.6,"c":1},{"x":10.5,"y":3.6,"c":8},{"x":10.75,"y":3.6,"c":25},{"x":11,"y":3.6,"c":30},{"x":11.25,"y":3.6,"c":60},{"x":11.5,"y":3.6,"c":100},{"x":11.75,"y":3.6,"c":600},{"x":12,"y":3.6,"c":200},{"x":12.25,"y":3.6,"c":40},{"x":12.5,"y":3.6,"c":10},
{"x":3,"y":3.3,"c":3},{"x":3.25,"y":3.3,"c":3},{"x":3.5,"y":3.3,"c":5},{"x":3.75,"y":3.3,"c":8},{"x":4,"y":3.3,"c":15},{"x":4.25,"y":3.3,"c":25},{"x":4.5,"y":3.3,"c":30},{"x":4.75,"y":3.3,"c":15},{"x":5,"y":3.3,"c":15},{"x":5.25,"y":3.3,"c":12},{"x":5.5,"y":3.3,"c":15},{"x":5.75,"y":3.3,"c":25},{"x":6,"y":3.3,"c":30},{"x":6.25,"y":3.3,"c":200},{"x":6.5,"y":3.3,"c":500},{"x":6.75,"y":3.3,"c":300},{"x":7,"y":3.3,"c":50},{"x":7.25,"y":3.3,"c":40},{"x":7.5,"y":3.3,"c":40},{"x":7.75,"y":3.3,"c":50},{"x":8,"y":3.3,"c":20},{"x":8.25,"y":3.3,"c":4},{"x":8.5,"y":3.3,"c":3},{"x":8.75,"y":3.3,"c":3},{"x":9.25,"y":3.3,"c":2},{"x":9.75,"y":3.3,"c":10},{"x":10,"y":3.3,"c":15},{"x":10.25,"y":3.3,"c":20},{"x":10.5,"y":3.3,"c":30},{"x":10.75,"y":3.3,"c":50},{"x":11,"y":3.3,"c":60},{"x":11.25,"y":3.3,"c":80},{"x":11.5,"y":3.3,"c":100},{"x":11.75,"y":3.3,"c":1000},{"x":12,"y":3.3,"c":150},{"x":12.25,"y":3.3,"c":50},{"x":12.5,"y":3.3,"c":15},
{"x":2.25,"y":3,"c":3},{"x":2.5,"y":3,"c":3},{"x":2.75,"y":3,"c":3},{"x":3,"y":3,"c":5},{"x":3.25,"y":3,"c":25},{"x":3.5,"y":3,"c":15},{"x":3.75,"y":3,"c":30},{"x":4,"y":3,"c":25},{"x":4.25,"y":3,"c":20},{"x":4.5,"y":3,"c":25},{"x":4.75,"y":3,"c":30},{"x":5,"y":3,"c":15},{"x":5.25,"y":3,"c":15},{"x":5.5,"y":3,"c":20},{"x":5.75,"y":3,"c":40},{"x":6,"y":3,"c":300},{"x":6.25,"y":3,"c":500},{"x":6.5,"y":3,"c":150},{"x":6.75,"y":3,"c":100},{"x":7,"y":3,"c":40},{"x":7.25,"y":3,"c":40},{"x":7.5,"y":3,"c":30},{"x":7.75,"y":3,"c":60},{"x":8,"y":3,"c":5},{"x":8.25,"y":3,"c":3},{"x":8.5,"y":3,"c":1},{"x":8.75,"y":3,"c":10},{"x":9,"y":3,"c":25},{"x":9.25,"y":3,"c":25},{"x":9.5,"y":3,"c":30},{"x":9.75,"y":3,"c":15},{"x":10,"y":3,"c":20},{"x":10.25,"y":3,"c":25},{"x":10.5,"y":3,"c":30},{"x":10.75,"y":3,"c":40},{"x":11,"y":3,"c":100},{"x":11.25,"y":3,"c":200},{"x":11.5,"y":3,"c":150},{"x":11.75,"y":3,"c":250},{"x":12,"y":3,"c":150},{"x":12.25,"y":3,"c":50},{"x":12.5,"y":3,"c":10},
{"x":2,"y":2.7,"c":3},{"x":2.25,"y":2.7,"c":3},{"x":2.5,"y":2.7,"c":4},{"x":2.75,"y":2.7,"c":8},{"x":3,"y":2.7,"c":30},{"x":3.25,"y":2.7,"c":20},{"x":3.5,"y":2.7,"c":30},{"x":3.75,"y":2.7,"c":12},{"x":4,"y":2.7,"c":25},{"x":4.25,"y":2.7,"c":15},{"x":4.5,"y":2.7,"c":15},{"x":4.75,"y":2.7,"c":15},{"x":5,"y":2.7,"c":20},{"x":5.25,"y":2.7,"c":25},{"x":5.5,"y":2.7,"c":30},{"x":5.75,"y":2.7,"c":60},{"x":6,"y":2.7,"c":600},{"x":6.25,"y":2.7,"c":500},{"x":6.5,"y":2.7,"c":150},{"x":6.75,"y":2.7,"c":80},{"x":7,"y":2.7,"c":30},{"x":7.25,"y":2.7,"c":40},{"x":7.5,"y":2.7,"c":120},{"x":7.75,"y":2.7,"c":100},{"x":8,"y":2.7,"c":8},{"x":8.25,"y":2.7,"c":4},{"x":8.5,"y":2.7,"c":3},{"x":8.75,"y":2.7,"c":15},{"x":9,"y":2.7,"c":25},{"x":9.25,"y":2.7,"c":25},{"x":9.5,"y":2.7,"c":40},{"x":9.75,"y":2.7,"c":50},{"x":10,"y":2.7,"c":100},{"x":10.25,"y":2.7,"c":60},{"x":10.5,"y":2.7,"c":50},{"x":10.75,"y":2.7,"c":60},{"x":11,"y":2.7,"c":150},{"x":11.25,"y":2.7,"c":600},{"x":11.5,"y":2.7,"c":50},{"x":11.75,"y":2.7,"c":60},{"x":12,"y":2.7,"c":150},{"x":12.25,"y":2.7,"c":50},{"x":12.5,"y":2.7,"c":8},
{"x":2.25,"y":2.4,"c":15},{"x":2.5,"y":2.4,"c":30},{"x":2.75,"y":2.4,"c":80},{"x":3,"y":2.4,"c":40},{"x":3.25,"y":2.4,"c":30},{"x":3.5,"y":2.4,"c":10},{"x":3.75,"y":2.4,"c":15},{"x":4,"y":2.4,"c":8},{"x":4.25,"y":2.4,"c":12},{"x":4.5,"y":2.4,"c":10},{"x":4.75,"y":2.4,"c":15},{"x":5,"y":2.4,"c":10},{"x":5.25,"y":2.4,"c":15},{"x":5.5,"y":2.4,"c":20},{"x":5.75,"y":2.4,"c":40},{"x":6,"y":2.4,"c":250},{"x":6.25,"y":2.4,"c":300},{"x":6.5,"y":2.4,"c":120},{"x":6.75,"y":2.4,"c":60},{"x":7,"y":2.4,"c":30},{"x":7.25,"y":2.4,"c":30},{"x":7.5,"y":2.4,"c":250},{"x":7.75,"y":2.4,"c":100},{"x":8,"y":2.4,"c":10},{"x":8.25,"y":2.4,"c":8},{"x":8.5,"y":2.4,"c":15},{"x":8.75,"y":2.4,"c":25},{"x":9,"y":2.4,"c":40},{"x":9.25,"y":2.4,"c":40},{"x":9.5,"y":2.4,"c":50},{"x":9.75,"y":2.4,"c":80},{"x":10,"y":2.4,"c":120},{"x":10.25,"y":2.4,"c":100},{"x":10.5,"y":2.4,"c":30},{"x":10.75,"y":2.4,"c":50},{"x":11,"y":2.4,"c":200},{"x":11.25,"y":2.4,"c":250},{"x":11.5,"y":2.4,"c":40},{"x":11.75,"y":2.4,"c":40},{"x":12,"y":2.4,"c":100},{"x":12.25,"y":2.4,"c":30},{"x":12.5,"y":2.4,"c":1},
{"x":2,"y":2.1,"c":3},{"x":2.25,"y":2.1,"c":20},{"x":2.5,"y":2.1,"c":60},{"x":2.75,"y":2.1,"c":30},{"x":3,"y":2.1,"c":40},{"x":3.25,"y":2.1,"c":20},{"x":3.5,"y":2.1,"c":20},{"x":3.75,"y":2.1,"c":12},{"x":4,"y":2.1,"c":12},{"x":4.25,"y":2.1,"c":10},{"x":4.5,"y":2.1,"c":15},{"x":4.75,"y":2.1,"c":10},{"x":5,"y":2.1,"c":8},{"x":5.25,"y":2.1,"c":15},{"x":5.5,"y":2.1,"c":15},{"x":5.75,"y":2.1,"c":60},{"x":6,"y":2.1,"c":120},{"x":6.25,"y":2.1,"c":150},{"x":6.5,"y":2.1,"c":120},{"x":6.75,"y":2.1,"c":50},{"x":7,"y":2.1,"c":25},{"x":7.25,"y":2.1,"c":15},{"x":7.5,"y":2.1,"c":200},{"x":7.75,"y":2.1,"c":60},{"x":8,"y":2.1,"c":15},{"x":8.25,"y":2.1,"c":25},{"x":8.5,"y":2.1,"c":15},{"x":8.75,"y":2.1,"c":30},{"x":9,"y":2.1,"c":50},{"x":9.25,"y":2.1,"c":40},{"x":9.5,"y":2.1,"c":50},{"x":9.75,"y":2.1,"c":50},{"x":10,"y":2.1,"c":60},{"x":10.25,"y":2.1,"c":80},{"x":10.5,"y":2.1,"c":30},{"x":10.75,"y":2.1,"c":80},{"x":11,"y":2.1,"c":250},{"x":11.25,"y":2.1,"c":250},{"x":11.5,"y":2.1,"c":30},{"x":11.75,"y":2.1,"c":40},{"x":12,"y":2.1,"c":50},{"x":12.25,"y":2.1,"c":20},{"x":12.5,"y":2.1,"c":5},
{"x":1.75,"y":1.8,"c":1},{"x":2,"y":1.8,"c":12},{"x":2.25,"y":1.8,"c":30},{"x":2.5,"y":1.8,"c":150},{"x":2.75,"y":1.8,"c":20},{"x":3,"y":1.8,"c":15},{"x":3.25,"y":1.8,"c":15},{"x":3.5,"y":1.8,"c":10},{"x":3.75,"y":1.8,"c":8},{"x":4,"y":1.8,"c":8},{"x":4.25,"y":1.8,"c":10},{"x":4.5,"y":1.8,"c":8},{"x":4.75,"y":1.8,"c":5},{"x":5,"y":1.8,"c":8},{"x":5.25,"y":1.8,"c":15},{"x":5.5,"y":1.8,"c":15},{"x":5.75,"y":1.8,"c":25},{"x":6,"y":1.8,"c":80},{"x":6.25,"y":1.8,"c":100},{"x":6.5,"y":1.8,"c":50},{"x":6.75,"y":1.8,"c":30},{"x":7,"y":1.8,"c":15},{"x":7.25,"y":1.8,"c":12},{"x":7.5,"y":1.8,"c":100},{"x":7.75,"y":1.8,"c":50},{"x":8,"y":1.8,"c":30},{"x":8.25,"y":1.8,"c":30},{"x":8.5,"y":1.8,"c":1},{"x":8.75,"y":1.8,"c":3},{"x":9,"y":1.8,"c":40},{"x":9.25,"y":1.8,"c":50},{"x":9.5,"y":1.8,"c":50},{"x":9.75,"y":1.8,"c":50},{"x":10,"y":1.8,"c":60},{"x":10.25,"y":1.8,"c":50},{"x":10.5,"y":1.8,"c":60},{"x":10.75,"y":1.8,"c":300},{"x":11,"y":1.8,"c":350},{"x":11.25,"y":1.8,"c":200},{"x":11.5,"y":1.8,"c":25},{"x":11.75,"y":1.8,"c":20},{"x":12,"y":1.8,"c":80},{"x":12.25,"y":1.8,"c":25},{"x":12.5,"y":1.8,"c":12},
{"x":1.75,"y":1.5,"c":3},{"x":2,"y":1.5,"c":30},{"x":2.25,"y":1.5,"c":200},{"x":2.5,"y":1.5,"c":250},{"x":2.75,"y":1.5,"c":15},{"x":3,"y":1.5,"c":8},{"x":3.25,"y":1.5,"c":15},{"x":3.5,"y":1.5,"c":25},{"x":3.75,"y":1.5,"c":8},{"x":4,"y":1.5,"c":8},{"x":4.25,"y":1.5,"c":5},{"x":4.5,"y":1.5,"c":5},{"x":4.75,"y":1.5,"c":5},{"x":5,"y":1.5,"c":8},{"x":5.25,"y":1.5,"c":5},{"x":5.5,"y":1.5,"c":8},{"x":5.75,"y":1.5,"c":3},{"x":6,"y":1.5,"c":20},{"x":6.25,"y":1.5,"c":60},{"x":6.5,"y":1.5,"c":40},{"x":6.75,"y":1.5,"c":40},{"x":7,"y":1.5,"c":30},{"x":7.25,"y":1.5,"c":15},{"x":7.5,"y":1.5,"c":100},{"x":7.75,"y":1.5,"c":30},{"x":8,"y":1.5,"c":3},{"x":8.5,"y":1.5,"c":1},{"x":8.75,"y":1.5,"c":8},{"x":9,"y":1.5,"c":40},{"x":9.25,"y":1.5,"c":50},{"x":9.5,"y":1.5,"c":50},{"x":9.75,"y":1.5,"c":40},{"x":10,"y":1.5,"c":50},{"x":10.25,"y":1.5,"c":50},{"x":10.5,"y":1.5,"c":80},{"x":10.75,"y":1.5,"c":300},{"x":11,"y":1.5,"c":350},{"x":11.25,"y":1.5,"c":150},{"x":11.5,"y":1.5,"c":25},{"x":11.75,"y":1.5,"c":40},{"x":12,"y":1.5,"c":60},{"x":12.25,"y":1.5,"c":30},{"x":12.5,"y":1.5,"c":8},
{"x":1.25,"y":1.2,"c":1},{"x":1.5,"y":1.2,"c":3},{"x":1.75,"y":1.2,"c":3},{"x":2,"y":1.2,"c":15},{"x":2.25,"y":1.2,"c":30},{"x":2.5,"y":1.2,"c":60},{"x":2.75,"y":1.2,"c":10},{"x":3,"y":1.2,"c":25},{"x":3.25,"y":1.2,"c":15},{"x":3.5,"y":1.2,"c":15},{"x":3.75,"y":1.2,"c":12},{"x":4,"y":1.2,"c":10},{"x":4.25,"y":1.2,"c":8},{"x":4.5,"y":1.2,"c":8},{"x":4.75,"y":1.2,"c":8},{"x":5,"y":1.2,"c":5},{"x":5.25,"y":1.2,"c":1},{"x":5.5,"y":1.2,"c":1},{"x":5.75,"y":1.2,"c":3},{"x":6,"y":1.2,"c":25},{"x":6.25,"y":1.2,"c":40},{"x":6.5,"y":1.2,"c":30},{"x":6.75,"y":1.2,"c":30},{"x":7,"y":1.2,"c":20},{"x":7.25,"y":1.2,"c":20},{"x":7.5,"y":1.2,"c":25},{"x":7.75,"y":1.2,"c":8},{"x":8,"y":1.2,"c":1},{"x":8.5,"y":1.2,"c":1},{"x":9,"y":1.2,"c":15},{"x":9.25,"y":1.2,"c":25},{"x":9.5,"y":1.2,"c":30},{"x":9.75,"y":1.2,"c":40},{"x":10,"y":1.2,"c":60},{"x":10.25,"y":1.2,"c":50},{"x":10.5,"y":1.2,"c":120},{"x":10.75,"y":1.2,"c":200},{"x":11,"y":1.2,"c":60},{"x":11.25,"y":1.2,"c":40},{"x":11.5,"y":1.2,"c":40},{"x":11.75,"y":1.2,"c":25},{"x":12,"y":1.2,"c":15},{"x":12.25,"y":1.2,"c":8},{"x":12.5,"y":1.2,"c":1},
{"x":2,"y":0.9,"c":30},{"x":2.25,"y":0.9,"c":100},{"x":2.5,"y":0.9,"c":15},{"x":2.75,"y":0.9,"c":10},{"x":3,"y":0.9,"c":20},{"x":3.25,"y":0.9,"c":30},{"x":3.5,"y":0.9,"c":30},{"x":3.75,"y":0.9,"c":20},{"x":4,"y":0.9,"c":20},{"x":4.25,"y":0.9,"c":15},{"x":4.5,"y":0.9,"c":8},{"x":4.75,"y":0.9,"c":8},{"x":5,"y":0.9,"c":5},{"x":5.25,"y":0.9,"c":1},{"x":5.5,"y":0.9,"c":1},{"x":5.75,"y":0.9,"c":5},{"x":6,"y":0.9,"c":25},{"x":6.25,"y":0.9,"c":50},{"x":6.5,"y":0.9,"c":30},{"x":6.75,"y":0.9,"c":25},{"x":7,"y":0.9,"c":15},{"x":7.25,"y":0.9,"c":4},{"x":7.5,"y":0.9,"c":1},{"x":8,"y":0.9,"c":3},{"x":8.25,"y":0.9,"c":8},{"x":8.5,"y":0.9,"c":8},{"x":9,"y":0.9,"c":1},{"x":9.25,"y":0.9,"c":20},{"x":9.5,"y":0.9,"c":25},{"x":9.75,"y":0.9,"c":30},{"x":10,"y":0.9,"c":30},{"x":10.25,"y":0.9,"c":30},{"x":10.5,"y":0.9,"c":200},{"x":10.75,"y":0.9,"c":40},{"x":11,"y":0.9,"c":30},{"x":11.25,"y":0.9,"c":40},{"x":11.5,"y":0.9,"c":30},{"x":11.75,"y":0.9,"c":20},{"x":12,"y":0.9,"c":15},{"x":12.25,"y":0.9,"c":8},{"x":12.5,"y":0.9,"c":12},
{"x":1.25,"y":0.6,"c":1},{"x":1.5,"y":0.6,"c":3},{"x":1.75,"y":0.6,"c":3},{"x":2,"y":0.6,"c":50},{"x":2.25,"y":0.6,"c":120},{"x":2.5,"y":0.6,"c":8},{"x":2.75,"y":0.6,"c":30},{"x":3,"y":0.6,"c":40},{"x":3.25,"y":0.6,"c":30},{"x":3.5,"y":0.6,"c":30},{"x":3.75,"y":0.6,"c":15},{"x":4,"y":0.6,"c":15},{"x":4.25,"y":0.6,"c":12},{"x":4.5,"y":0.6,"c":12},{"x":4.75,"y":0.6,"c":8},{"x":5,"y":0.6,"c":1},{"x":5.75,"y":0.6,"c":1},{"x":6,"y":0.6,"c":30},{"x":6.25,"y":0.6,"c":50},{"x":6.5,"y":0.6,"c":25},{"x":6.75,"y":0.6,"c":25},{"x":7,"y":0.6,"c":12},{"x":7.25,"y":0.6,"c":4},{"x":7.5,"y":0.6,"c":1},{"x":8.25,"y":0.6,"c":1},{"x":8.5,"y":0.6,"c":4},{"x":8.75,"y":0.6,"c":5},{"x":9,"y":0.6,"c":5},{"x":9.25,"y":0.6,"c":15},{"x":9.5,"y":0.6,"c":30},{"x":9.75,"y":0.6,"c":25},{"x":10,"y":0.6,"c":30},{"x":10.25,"y":0.6,"c":40},{"x":10.5,"y":0.6,"c":200},{"x":10.75,"y":0.6,"c":25},{"x":11,"y":0.6,"c":25},{"x":11.25,"y":0.6,"c":30},{"x":11.5,"y":0.6,"c":8},{"x":11.75,"y":0.6,"c":5},{"x":12,"y":0.6,"c":8},{"x":12.25,"y":0.6,"c":25},{"x":12.5,"y":0.6,"c":25},
{"x":1.25,"y":0.3,"c":1},{"x":1.5,"y":0.3,"c":4},{"x":1.75,"y":0.3,"c":20},{"x":2,"y":0.3,"c":30},{"x":2.25,"y":0.3,"c":80},{"x":2.5,"y":0.3,"c":15},{"x":2.75,"y":0.3,"c":70},{"x":3,"y":0.3,"c":100},{"x":3.25,"y":0.3,"c":100},{"x":3.5,"y":0.3,"c":70},{"x":3.75,"y":0.3,"c":50},{"x":4,"y":0.3,"c":30},{"x":4.25,"y":0.3,"c":30},{"x":4.5,"y":0.3,"c":25},{"x":4.75,"y":0.3,"c":8},{"x":5.75,"y":0.3,"c":1},{"x":6,"y":0.3,"c":40},{"x":6.25,"y":0.3,"c":60},{"x":6.5,"y":0.3,"c":60},{"x":6.75,"y":0.3,"c":30},{"x":7,"y":0.3,"c":15},{"x":7.25,"y":0.3,"c":1},{"x":8.25,"y":0.3,"c":1},{"x":8.5,"y":0.3,"c":1},{"x":8.75,"y":0.3,"c":3},{"x":9,"y":0.3,"c":15},{"x":9.25,"y":0.3,"c":30},{"x":9.5,"y":0.3,"c":30},{"x":9.75,"y":0.3,"c":25},{"x":10,"y":0.3,"c":30},{"x":10.25,"y":0.3,"c":50},{"x":10.5,"y":0.3,"c":100},{"x":10.75,"y":0.3,"c":20},{"x":11,"y":0.3,"c":30},{"x":11.25,"y":0.3,"c":50},{"x":11.5,"y":0.3,"c":8},{"x":11.75,"y":0.3,"c":5},{"x":12,"y":0.3,"c":8},{"x":12.25,"y":0.3,"c":40},{"x":12.5,"y":0.3,"c":40},
{"x":1.25,"y":0,"c":4},{"x":1.5,"y":0,"c":25},{"x":1.75,"y":0,"c":50},{"x":2,"y":0,"c":60},{"x":2.25,"y":0,"c":120},{"x":2.5,"y":0,"c":150},{"x":2.75,"y":0,"c":120},{"x":3,"y":0,"c":200},{"x":3.25,"y":0,"c":120},{"x":3.5,"y":0,"c":100},{"x":3.75,"y":0,"c":100},{"x":4,"y":0,"c":80},{"x":4.25,"y":0,"c":70},{"x":4.5,"y":0,"c":100},{"x":4.75,"y":0,"c":15},{"x":5.75,"y":0,"c":1},{"x":6,"y":0,"c":60},{"x":6.25,"y":0,"c":100},{"x":6.5,"y":0,"c":50},{"x":6.75,"y":0,"c":30},{"x":7,"y":0,"c":1},{"x":8,"y":0,"c":1},{"x":8.5,"y":0,"c":1},{"x":8.75,"y":0,"c":3},{"x":9,"y":0,"c":30},{"x":9.25,"y":0,"c":40},{"x":9.5,"y":0,"c":50},{"x":9.75,"y":0,"c":40},{"x":10,"y":0,"c":60},{"x":10.25,"y":0,"c":120},{"x":10.5,"y":0,"c":60},{"x":10.75,"y":0,"c":100},{"x":11,"y":0,"c":200},{"x":11.25,"y":0,"c":200},{"x":11.5,"y":0,"c":30},{"x":11.75,"y":0,"c":25},{"x":12,"y":0,"c":50},{"x":12.25,"y":0,"c":70},{"x":12.5,"y":0,"c":60}]},
"vconcat":[
{"hconcat":[
{"width":306,"height":323.6,"view":{"stroke":null},"data":{"values":[{"a":1}]},"mark":{"type":"point","opacity":0},"encoding":{}},
{"width":500,"height":323.6,"view":{"stroke":"black","strokeWidth":4},
"title":{"text":"class 10 - multi-layer clouds","fontSize":32.2,"offset":2},
"layer":[
{"data":{"name":"bars"},"transform":[{"filter":"datum.s=='CTH truth (102k)'"}],"mark":{"type":"rect","stroke":"black","strokeWidth":2.5},
"encoding":{"x":{"field":"b","type":"quantitative","scale":{"domain":[-0.78,16.82],"nice":false,"zero":false},"axis":{"values":[0,2,4,6,8,10,12,14,16],"labelFontSize":26,"titleFontSize":26.8,"tickWidth":3,"tickSize":7,"labelPadding":5,"title":"Cloud top height [km]","titlePadding":5,"format":"d"}},"x2":{"field":"b2"},"y":{"field":"d","type":"quantitative","scale":{"domain":[0,0.3735],"nice":false},"axis":{"values":[0,0.1,0.2,0.3],"labelFontSize":26,"titleFontSize":26.8,"tickWidth":3,"tickSize":7,"labelPadding":6,"labelOffset":2,"title":"Density","titlePadding":4,"titleY":165,"format":".1f"}},"y2":{"datum":0},
"fill":{"field":"s","type":"nominal","scale":{"domain":["CTH truth (102k)","CTH AM-COL (45k)","CTH M-CLD (100k)"],"range":["rgba(255,255,255,0)","rgba(255,0,0,0.4)","rgba(255,165,0,0.4)"]},
"legend":{"title":null,"orient":"none","legendX":23.5,"legendY":16,"symbolType":"M-2,-0.8H2V0.8H-2Z","symbolSize":342,"labelFontSize":18,"labelLimit":300,"labelOffset":23,"rowPadding":7.5,"labelColor":"black","symbolStrokeWidth":0}}}},
{"data":{"name":"patch"},"mark":{"type":"rect","stroke":"black","strokeWidth":2.5,"fillOpacity":0},"encoding":{"x":{"field":"b","type":"quantitative"},"x2":{"field":"b2"},"y":{"field":"d","type":"quantitative"},"y2":{"field":"d2"}}},
{"data":{"name":"hatch"},"mark":{"type":"rule","color":"black","strokeWidth":1.6},"encoding":{"x":{"field":"x","type":"quantitative"},"x2":{"field":"x2"},"y":{"field":"y","type":"quantitative"},"y2":{"field":"y2"}}},
{"data":{"name":"bars"},"transform":[{"filter":"datum.s!='CTH truth (102k)'"}],"mark":{"type":"rect","strokeWidth":0},
"encoding":{"x":{"field":"b","type":"quantitative"},"x2":{"field":"b2"},"y":{"field":"d","type":"quantitative"},"y2":{"datum":0},"fill":{"field":"s","type":"nominal"}}}
]}
],"spacing":20,"bounds":"flush","resolve":{"scale":{"fill":"independent"},"legend":{"fill":"independent"}}},
{"hconcat":[
{"width":375,"height":399,"title":{"text":"AM-COL class 10 - multi-layer clouds","fontSize":22.7,"anchor":"start","frame":"group","offset":-6},
"layer":[
{"data":{"name":"amcol"},"mark":{"type":"rect","width":6.4,"height":8,"xOffset":2.93,"yOffset":-3.74},
"encoding":{"x":{"field":"x","type":"quantitative","scale":{"domain":[0,16],"nice":false},"axis":{"values":[0,2,4,6,8,10,12,14,16],"labelFontSize":18,"titleFontSize":18.7,"tickWidth":2,"tickSize":5,"titlePadding":6,"title":"CTH truth (ext > 20 Mm⁻¹) [km]","format":"d"}},"y":{"field":"y","type":"quantitative","scale":{"domain":[0,16],"nice":false},"axis":{"values":[0,2,4,6,8,10,12,14,16],"labelFontSize":18,"titleFontSize":18.7,"tickWidth":2,"tickSize":5,"titlePadding":7,"title":"CTH AM-COL [km]","format":"d"}},
"fill":{"field":"c","type":"quantitative","scale":{"type":"log","domain":[1,1400],"scheme":"viridis"},"legend":{"title":null,"orient":"none","legendX":399,"legendY":0,"gradientLength":399,"gradientThickness":20,"gradientStrokeColor":"#333","gradientStrokeWidth":1.5,"values":[1,10,100,1000],"labelFontSize":19,"labelColor":"black","labelOffset":8,"labelExpr":"{'1':'10⁰','10':'10¹','100':'10²','1000':'10³'}[datum.value]"}}}},
{"data":{"values":[{"a":0,"b":0},{"a":16,"b":16}]},"mark":{"type":"line","color":"black","strokeWidth":2.2,"strokeDash":[7,4]},"encoding":{"x":{"field":"a","type":"quantitative"},"y":{"field":"b","type":"quantitative"}}},
{"data":{"values":[{"x":5.72,"y":15.24,"t":"f_300=26%"},{"x":5.72,"y":14.35,"t":"f_600=41%"},{"x":5.72,"y":13.47,"t":"f_1500=61%"}]},"mark":{"type":"text","align":"right","baseline":"middle","fontSize":18.6,"color":"black"},"encoding":{"x":{"field":"x","type":"quantitative"},"y":{"field":"y","type":"quantitative"},"text":{"field":"t"}}}
]},
{"width":375,"height":399,"title":{"text":"M-CLD class 10 - multi-layer clouds","fontSize":22.7,"anchor":"start","frame":"group","offset":-6},
"layer":[
{"data":{"name":"mcld"},"mark":{"type":"rect","width":6.4,"height":8,"xOffset":2.93,"yOffset":-3.74},
"encoding":{"x":{"field":"x","type":"quantitative","scale":{"domain":[0,16],"nice":false},"axis":{"values":[0,2,4,6,8,10,12,14,16],"labelFontSize":18,"titleFontSize":18.7,"tickWidth":2,"tickSize":5,"titlePadding":6,"title":"CTH truth (ext > 20 Mm⁻¹) [km]","format":"d"}},"y":{"field":"y","type":"quantitative","scale":{"domain":[0,16],"nice":false},"axis":{"values":[0,2,4,6,8,10,12,14,16],"labelFontSize":18,"titleFontSize":18.7,"tickWidth":2,"tickSize":5,"titlePadding":7,"title":"CTH M-CLD [km]","format":"d"}},
"fill":{"field":"c","type":"quantitative","scale":{"type":"log","domain":[1,1400],"scheme":"viridis"},"legend":{"title":null,"orient":"none","legendX":399,"legendY":0,"gradientLength":399,"gradientThickness":20,"gradientStrokeColor":"#333","gradientStrokeWidth":1.5,"values":[1,10,100,1000],"labelFontSize":19,"labelColor":"black","labelOffset":8,"labelExpr":"{'1':'10⁰','10':'10¹','100':'10²','1000':'10³'}[datum.value]"}}}},
{"data":{"values":[{"a":0,"b":0},{"a":16,"b":16}]},"mark":{"type":"line","color":"black","strokeWidth":2.2,"strokeDash":[7,4]},"encoding":{"x":{"field":"a","type":"quantitative"},"y":{"field":"b","type":"quantitative"}}},
{"data":{"values":[{"x":5.12,"y":15.24,"t":"f_300=1%"},{"x":5.12,"y":14.35,"t":"f_600=2%"},{"x":5.12,"y":13.47,"t":"f_1500=9%"}]},"mark":{"type":"text","align":"right","baseline":"middle","fontSize":18.6,"color":"black"},"encoding":{"x":{"field":"x","type":"quantitative"},"y":{"field":"y","type":"quantitative"},"text":{"field":"t"}}}
]}
],"spacing":236,"bounds":"flush","resolve":{"scale":{"fill":"independent"}}}
]}
